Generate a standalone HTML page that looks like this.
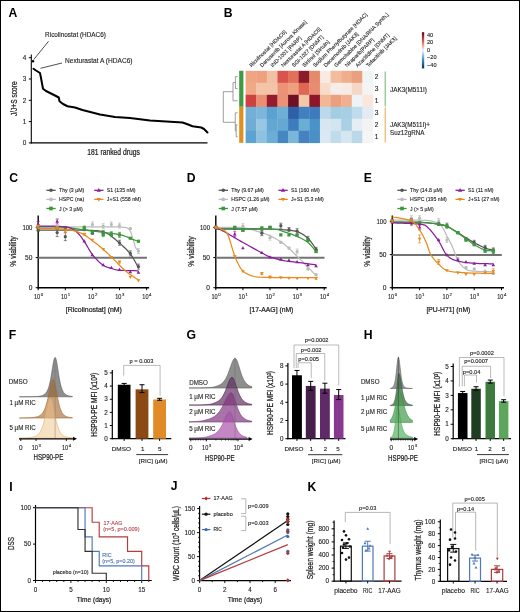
<!DOCTYPE html>
<html><head><meta charset="utf-8"><style>
html,body{margin:0;padding:0;background:#fff;width:520px;height:612px;overflow:hidden}
svg{display:block;will-change:transform;font-family:"Liberation Sans",sans-serif}
</style></head><body>
<svg width="520" height="612" viewBox="0 0 520 612" font-family="Liberation Sans, sans-serif"><rect x="0" y="0" width="520" height="1" fill="#000" stroke="none" stroke-width="0"/>
<rect x="0" y="0" width="1" height="612" fill="#000" stroke="none" stroke-width="0"/>
<rect x="519" y="0" width="1" height="612" fill="#000" stroke="none" stroke-width="0"/>
<rect x="0" y="611" width="520" height="1" fill="#000" stroke="none" stroke-width="0"/>
<text x="8.6" y="17" font-size="12.2" text-anchor="start" fill="#000" font-weight="bold">A</text>
<line x1="31.3" y1="54.5" x2="31.3" y2="143.5" stroke="#000" stroke-width="1.1"/>
<line x1="30.8" y1="142.9" x2="207.5" y2="142.9" stroke="#000" stroke-width="1.1"/>
<line x1="28.8" y1="142.9" x2="31.3" y2="142.9" stroke="#000" stroke-width="1"/>
<text x="26.3" y="145.1" font-size="6.4" text-anchor="end" fill="#222" font-weight="normal" stroke="#222" stroke-width="0.12">0</text>
<line x1="28.8" y1="121.6" x2="31.3" y2="121.6" stroke="#000" stroke-width="1"/>
<text x="26.3" y="123.8" font-size="6.4" text-anchor="end" fill="#222" font-weight="normal" stroke="#222" stroke-width="0.12">1</text>
<line x1="28.8" y1="100.3" x2="31.3" y2="100.3" stroke="#000" stroke-width="1"/>
<text x="26.3" y="102.5" font-size="6.4" text-anchor="end" fill="#222" font-weight="normal" stroke="#222" stroke-width="0.12">2</text>
<line x1="28.8" y1="79" x2="31.3" y2="79" stroke="#000" stroke-width="1"/>
<text x="26.3" y="81.2" font-size="6.4" text-anchor="end" fill="#222" font-weight="normal" stroke="#222" stroke-width="0.12">3</text>
<line x1="28.8" y1="57.7" x2="31.3" y2="57.7" stroke="#000" stroke-width="1"/>
<text x="26.3" y="59.9" font-size="6.4" text-anchor="end" fill="#222" font-weight="normal" stroke="#222" stroke-width="0.12">4</text>
<text x="16.8" y="98.7" font-size="8.2" text-anchor="middle" fill="#222" font-weight="normal" stroke="#222" stroke-width="0.24" transform="rotate(-90 16.8 98.7)" textLength="34.8" lengthAdjust="spacingAndGlyphs">J/J+S score</text>
<text x="113.6" y="154.5" font-size="8.6" text-anchor="middle" fill="#222" font-weight="normal" stroke="#222" stroke-width="0.24" textLength="52.5" lengthAdjust="spacingAndGlyphs">181 ranked drugs</text>
<path d="M33.5 68.75 L36 70.5 L40 73 L41 78 L43 88.75 L46 91 L50 93 L55 95.5 L58.75 97.5 L59.5 101.25 L63 104 L67.5 106.25 L75 107.5 L82.5 110 L100 114.5 L115 117 L130 118 L150 120.5 L182.5 122.5 L187.5 124.25 L192.5 126.25 L201.25 127.5 L204 129 L207.5 132.5" stroke="#000" stroke-width="2" fill="none" stroke-linejoin="round" stroke-linecap="round"/>
<circle cx="33" cy="61.3" r="1.3" fill="#000"/>
<text x="45.1" y="37.2" font-size="6.5" text-anchor="start" fill="#222" font-weight="normal" stroke="#222" stroke-width="0.12" textLength="60.8" lengthAdjust="spacingAndGlyphs">Ricolinostat (HDAC6)</text>
<line x1="33.8" y1="59.5" x2="48.5" y2="41.3" stroke="#000" stroke-width="0.7"/>
<text x="65" y="63" font-size="6.5" text-anchor="start" fill="#222" font-weight="normal" stroke="#222" stroke-width="0.12" textLength="67.5" lengthAdjust="spacingAndGlyphs">Nexturastat A (HDAC6)</text>
<line x1="40.5" y1="68.3" x2="62" y2="63" stroke="#000" stroke-width="0.7"/>
<text x="223.8" y="16.5" font-size="12.2" text-anchor="start" fill="#000" font-weight="bold">B</text>
<rect x="245.6" y="70.8" width="10.92" height="12.3" fill="#f0a582" stroke="none" stroke-width="0"/>
<rect x="245.6" y="82.8" width="10.92" height="12.3" fill="#f1a886" stroke="none" stroke-width="0"/>
<rect x="245.6" y="94.8" width="10.92" height="12.3" fill="#cf4040" stroke="none" stroke-width="0"/>
<rect x="245.6" y="106.8" width="10.92" height="12.3" fill="#74b0d6" stroke="none" stroke-width="0"/>
<rect x="245.6" y="118.8" width="10.92" height="12.3" fill="#6fadd6" stroke="none" stroke-width="0"/>
<rect x="245.6" y="130.8" width="10.92" height="12.3" fill="#5ca3d2" stroke="none" stroke-width="0"/>
<rect x="256.22" y="70.8" width="10.92" height="12.3" fill="#eea07f" stroke="none" stroke-width="0"/>
<rect x="256.22" y="82.8" width="10.92" height="12.3" fill="#f3c4a8" stroke="none" stroke-width="0"/>
<rect x="256.22" y="94.8" width="10.92" height="12.3" fill="#eb8f72" stroke="none" stroke-width="0"/>
<rect x="256.22" y="106.8" width="10.92" height="12.3" fill="#7cb6da" stroke="none" stroke-width="0"/>
<rect x="256.22" y="118.8" width="10.92" height="12.3" fill="#97c7e2" stroke="none" stroke-width="0"/>
<rect x="256.22" y="130.8" width="10.92" height="12.3" fill="#8fc2e0" stroke="none" stroke-width="0"/>
<rect x="266.84" y="70.8" width="10.92" height="12.3" fill="#f2c0a3" stroke="none" stroke-width="0"/>
<rect x="266.84" y="82.8" width="10.92" height="12.3" fill="#f3c4a8" stroke="none" stroke-width="0"/>
<rect x="266.84" y="94.8" width="10.92" height="12.3" fill="#951c2e" stroke="none" stroke-width="0"/>
<rect x="266.84" y="106.8" width="10.92" height="12.3" fill="#5aa2d0" stroke="none" stroke-width="0"/>
<rect x="266.84" y="118.8" width="10.92" height="12.3" fill="#62a8d3" stroke="none" stroke-width="0"/>
<rect x="266.84" y="130.8" width="10.92" height="12.3" fill="#6aaed6" stroke="none" stroke-width="0"/>
<rect x="277.46" y="70.8" width="10.92" height="12.3" fill="#d9544d" stroke="none" stroke-width="0"/>
<rect x="277.46" y="82.8" width="10.92" height="12.3" fill="#ec9377" stroke="none" stroke-width="0"/>
<rect x="277.46" y="94.8" width="10.92" height="12.3" fill="#ec9176" stroke="none" stroke-width="0"/>
<rect x="277.46" y="106.8" width="10.92" height="12.3" fill="#6fafd6" stroke="none" stroke-width="0"/>
<rect x="277.46" y="118.8" width="10.92" height="12.3" fill="#65a9d3" stroke="none" stroke-width="0"/>
<rect x="277.46" y="130.8" width="10.92" height="12.3" fill="#4487c3" stroke="none" stroke-width="0"/>
<rect x="288.08" y="70.8" width="10.92" height="12.3" fill="#e2705a" stroke="none" stroke-width="0"/>
<rect x="288.08" y="82.8" width="10.92" height="12.3" fill="#ee9f80" stroke="none" stroke-width="0"/>
<rect x="288.08" y="94.8" width="10.92" height="12.3" fill="#6e1024" stroke="none" stroke-width="0"/>
<rect x="288.08" y="106.8" width="10.92" height="12.3" fill="#2f5fa6" stroke="none" stroke-width="0"/>
<rect x="288.08" y="118.8" width="10.92" height="12.3" fill="#3e7dbd" stroke="none" stroke-width="0"/>
<rect x="288.08" y="130.8" width="10.92" height="12.3" fill="#79b6da" stroke="none" stroke-width="0"/>
<rect x="298.7" y="70.8" width="10.92" height="12.3" fill="#8b1a2a" stroke="none" stroke-width="0"/>
<rect x="298.7" y="82.8" width="10.92" height="12.3" fill="#df6652" stroke="none" stroke-width="0"/>
<rect x="298.7" y="94.8" width="10.92" height="12.3" fill="#f4c7a8" stroke="none" stroke-width="0"/>
<rect x="298.7" y="106.8" width="10.92" height="12.3" fill="#4080bf" stroke="none" stroke-width="0"/>
<rect x="298.7" y="118.8" width="10.92" height="12.3" fill="#6aaed5" stroke="none" stroke-width="0"/>
<rect x="298.7" y="130.8" width="10.92" height="12.3" fill="#4582c1" stroke="none" stroke-width="0"/>
<rect x="309.32" y="70.8" width="10.92" height="12.3" fill="#e68a6c" stroke="none" stroke-width="0"/>
<rect x="309.32" y="82.8" width="10.92" height="12.3" fill="#e88b70" stroke="none" stroke-width="0"/>
<rect x="309.32" y="94.8" width="10.92" height="12.3" fill="#8e1628" stroke="none" stroke-width="0"/>
<rect x="309.32" y="106.8" width="10.92" height="12.3" fill="#3e7bbd" stroke="none" stroke-width="0"/>
<rect x="309.32" y="118.8" width="10.92" height="12.3" fill="#4993c8" stroke="none" stroke-width="0"/>
<rect x="309.32" y="130.8" width="10.92" height="12.3" fill="#4a8fc6" stroke="none" stroke-width="0"/>
<rect x="319.94" y="70.8" width="10.92" height="12.3" fill="#f9ebe3" stroke="none" stroke-width="0"/>
<rect x="319.94" y="82.8" width="10.92" height="12.3" fill="#f8dccb" stroke="none" stroke-width="0"/>
<rect x="319.94" y="94.8" width="10.92" height="12.3" fill="#f0b894" stroke="none" stroke-width="0"/>
<rect x="319.94" y="106.8" width="10.92" height="12.3" fill="#bcd9ea" stroke="none" stroke-width="0"/>
<rect x="319.94" y="118.8" width="10.92" height="12.3" fill="#d7e7f1" stroke="none" stroke-width="0"/>
<rect x="319.94" y="130.8" width="10.92" height="12.3" fill="#d9e8f2" stroke="none" stroke-width="0"/>
<rect x="330.56" y="70.8" width="10.92" height="12.3" fill="#f1bd9c" stroke="none" stroke-width="0"/>
<rect x="330.56" y="82.8" width="10.92" height="12.3" fill="#f7ede8" stroke="none" stroke-width="0"/>
<rect x="330.56" y="94.8" width="10.92" height="12.3" fill="#eb9f7f" stroke="none" stroke-width="0"/>
<rect x="330.56" y="106.8" width="10.92" height="12.3" fill="#a2cde3" stroke="none" stroke-width="0"/>
<rect x="330.56" y="118.8" width="10.92" height="12.3" fill="#d3e5f0" stroke="none" stroke-width="0"/>
<rect x="330.56" y="130.8" width="10.92" height="12.3" fill="#c0dbea" stroke="none" stroke-width="0"/>
<rect x="341.18" y="70.8" width="10.92" height="12.3" fill="#f0ae8c" stroke="none" stroke-width="0"/>
<rect x="341.18" y="82.8" width="10.92" height="12.3" fill="#f8ebe5" stroke="none" stroke-width="0"/>
<rect x="341.18" y="94.8" width="10.92" height="12.3" fill="#f0b090" stroke="none" stroke-width="0"/>
<rect x="341.18" y="106.8" width="10.92" height="12.3" fill="#a6cfe4" stroke="none" stroke-width="0"/>
<rect x="341.18" y="118.8" width="10.92" height="12.3" fill="#a9d0e4" stroke="none" stroke-width="0"/>
<rect x="341.18" y="130.8" width="10.92" height="12.3" fill="#d6e6f0" stroke="none" stroke-width="0"/>
<rect x="351.8" y="70.8" width="10.92" height="12.3" fill="#eaa07e" stroke="none" stroke-width="0"/>
<rect x="351.8" y="82.8" width="10.92" height="12.3" fill="#f6d7c5" stroke="none" stroke-width="0"/>
<rect x="351.8" y="94.8" width="10.92" height="12.3" fill="#eef3f6" stroke="none" stroke-width="0"/>
<rect x="351.8" y="106.8" width="10.92" height="12.3" fill="#c0dcea" stroke="none" stroke-width="0"/>
<rect x="351.8" y="118.8" width="10.92" height="12.3" fill="#e7eef3" stroke="none" stroke-width="0"/>
<rect x="351.8" y="130.8" width="10.92" height="12.3" fill="#bad8e9" stroke="none" stroke-width="0"/>
<rect x="362.42" y="70.8" width="10.92" height="12.3" fill="#f1f4f4" stroke="none" stroke-width="0"/>
<rect x="362.42" y="82.8" width="10.92" height="12.3" fill="#f4f4f4" stroke="none" stroke-width="0"/>
<rect x="362.42" y="94.8" width="10.92" height="12.3" fill="#fbe6dc" stroke="none" stroke-width="0"/>
<rect x="362.42" y="106.8" width="10.92" height="12.3" fill="#e5ebf3" stroke="none" stroke-width="0"/>
<rect x="362.42" y="118.8" width="10.92" height="12.3" fill="#f2f3f4" stroke="none" stroke-width="0"/>
<rect x="362.42" y="130.8" width="10.92" height="12.3" fill="#f5f5f5" stroke="none" stroke-width="0"/>
<rect x="239.2" y="70.8" width="4.2" height="36" fill="#3f9a45" stroke="none" stroke-width="0"/>
<rect x="239.2" y="106.8" width="4.2" height="36" fill="#e0901c" stroke="none" stroke-width="0"/>
<line x1="235.4" y1="76.6" x2="237.6" y2="76.6" stroke="#777" stroke-width="0.7"/>
<line x1="235.4" y1="88.6" x2="237.6" y2="88.6" stroke="#777" stroke-width="0.7"/>
<line x1="235.4" y1="76.6" x2="235.4" y2="88.6" stroke="#777" stroke-width="0.7"/>
<line x1="233" y1="82.6" x2="235.4" y2="82.6" stroke="#777" stroke-width="0.7"/>
<line x1="233" y1="100.8" x2="237.6" y2="100.8" stroke="#777" stroke-width="0.7"/>
<line x1="233" y1="82.6" x2="233" y2="100.8" stroke="#777" stroke-width="0.7"/>
<line x1="223.3" y1="91.7" x2="233" y2="91.7" stroke="#777" stroke-width="0.7"/>
<line x1="223.3" y1="91.7" x2="223.3" y2="122.3" stroke="#777" stroke-width="0.7"/>
<line x1="223.3" y1="122.3" x2="235.3" y2="122.3" stroke="#777" stroke-width="0.7"/>
<line x1="235.3" y1="112.8" x2="237.6" y2="112.8" stroke="#777" stroke-width="0.7"/>
<line x1="235.3" y1="112.8" x2="235.3" y2="130.8" stroke="#777" stroke-width="0.7"/>
<line x1="235.3" y1="130.8" x2="236.2" y2="130.8" stroke="#777" stroke-width="0.7"/>
<line x1="236.2" y1="124.8" x2="237.6" y2="124.8" stroke="#777" stroke-width="0.7"/>
<line x1="236.2" y1="136.8" x2="237.6" y2="136.8" stroke="#777" stroke-width="0.7"/>
<line x1="236.2" y1="124.8" x2="236.2" y2="136.8" stroke="#777" stroke-width="0.7"/>
<text x="251.41" y="67.5" font-size="5.3" text-anchor="start" fill="#222" font-weight="normal" stroke="#222" stroke-width="0.12" transform="rotate(-45 251.41 67.5)">Ricolinostat [HDAC6]</text>
<text x="262.03" y="67.5" font-size="5.3" text-anchor="start" fill="#222" font-weight="normal" stroke="#222" stroke-width="0.12" transform="rotate(-45 262.03 67.5)">Danusertib [Aurora Kinase]</text>
<text x="272.65" y="67.5" font-size="5.3" text-anchor="start" fill="#222" font-weight="normal" stroke="#222" stroke-width="0.12" transform="rotate(-45 272.65 67.5)">IND-1001 [PARP]</text>
<text x="283.27" y="67.5" font-size="5.3" text-anchor="start" fill="#222" font-weight="normal" stroke="#222" stroke-width="0.12" transform="rotate(-45 283.27 67.5)">Nexturastat A [HDAC6]</text>
<text x="293.89" y="67.5" font-size="5.3" text-anchor="start" fill="#222" font-weight="normal" stroke="#222" stroke-width="0.12" transform="rotate(-45 293.89 67.5)">SGI-1027 [DNMT]</text>
<text x="304.51" y="67.5" font-size="5.3" text-anchor="start" fill="#222" font-weight="normal" stroke="#222" stroke-width="0.12" transform="rotate(-45 304.51 67.5)">Sirtinol [Sirtuin]</text>
<text x="315.13" y="67.5" font-size="5.3" text-anchor="start" fill="#222" font-weight="normal" stroke="#222" stroke-width="0.12" transform="rotate(-45 315.13 67.5)">Sodium Phenylbutyrate [HDAC]</text>
<text x="325.75" y="67.5" font-size="5.3" text-anchor="start" fill="#222" font-weight="normal" stroke="#222" stroke-width="0.12" transform="rotate(-45 325.75 67.5)">Decernotinib [JAK3]</text>
<text x="336.37" y="67.5" font-size="5.3" text-anchor="start" fill="#222" font-weight="normal" stroke="#222" stroke-width="0.12" transform="rotate(-45 336.37 67.5)">Gemcitabine [DNA/RNA Synth.]</text>
<text x="346.99" y="67.5" font-size="5.3" text-anchor="start" fill="#222" font-weight="normal" stroke="#222" stroke-width="0.12" transform="rotate(-45 346.99 67.5)">Niraparib[PARP]</text>
<text x="357.61" y="67.5" font-size="5.3" text-anchor="start" fill="#222" font-weight="normal" stroke="#222" stroke-width="0.12" transform="rotate(-45 357.61 67.5)">Azacitidine [DNMT]</text>
<text x="368.23" y="67.5" font-size="5.3" text-anchor="start" fill="#222" font-weight="normal" stroke="#222" stroke-width="0.12" transform="rotate(-45 368.23 67.5)">Tofacitinib [JAK3]</text>
<text x="374.8" y="79.1" font-size="6.6" text-anchor="start" fill="#222" font-weight="normal" stroke="#222" stroke-width="0.12">2</text>
<text x="374.8" y="91.1" font-size="6.6" text-anchor="start" fill="#222" font-weight="normal" stroke="#222" stroke-width="0.12">3</text>
<text x="374.8" y="103.1" font-size="6.6" text-anchor="start" fill="#222" font-weight="normal" stroke="#222" stroke-width="0.12">1</text>
<text x="374.8" y="115.1" font-size="6.6" text-anchor="start" fill="#222" font-weight="normal" stroke="#222" stroke-width="0.12">3</text>
<text x="374.8" y="127.1" font-size="6.6" text-anchor="start" fill="#222" font-weight="normal" stroke="#222" stroke-width="0.12">2</text>
<text x="374.8" y="139.1" font-size="6.6" text-anchor="start" fill="#222" font-weight="normal" stroke="#222" stroke-width="0.12">1</text>
<line x1="385.2" y1="71.5" x2="385.2" y2="106.3" stroke="#4a9e4a" stroke-width="0.8"/>
<line x1="385.2" y1="107.3" x2="385.2" y2="142.5" stroke="#e0901c" stroke-width="0.8"/>
<text x="390" y="92.25" font-size="6.3" text-anchor="start" fill="#222" font-weight="normal" stroke="#222" stroke-width="0.12" textLength="36.9" lengthAdjust="spacingAndGlyphs">JAK3(M511I)</text>
<text x="390" y="126.9" font-size="6.3" text-anchor="start" fill="#222" font-weight="normal" stroke="#222" stroke-width="0.12">JAK3(M511I)+</text>
<text x="390" y="134.6" font-size="6.3" text-anchor="start" fill="#222" font-weight="normal" stroke="#222" stroke-width="0.12" textLength="34.4" lengthAdjust="spacingAndGlyphs">Suz12gRNA</text>
<defs><linearGradient id="cb" x1="0" y1="0" x2="0" y2="1"><stop offset="0" stop-color="#67001f"/><stop offset="0.25" stop-color="#d6604d"/><stop offset="0.5" stop-color="#f7f7f7"/><stop offset="0.75" stop-color="#4393c3"/><stop offset="1" stop-color="#053061"/></linearGradient></defs>
<rect x="421.9" y="32.2" width="2.3" height="36.2" fill="url(#cb)" stroke="none" stroke-width="0"/>
<text x="427" y="36.8" font-size="5.6" text-anchor="start" fill="#222" font-weight="normal" stroke="#222" stroke-width="0.12">40</text>
<text x="427" y="44.3" font-size="5.6" text-anchor="start" fill="#222" font-weight="normal" stroke="#222" stroke-width="0.12">20</text>
<text x="427" y="51.8" font-size="5.6" text-anchor="start" fill="#222" font-weight="normal" stroke="#222" stroke-width="0.12">0</text>
<text x="427" y="59.3" font-size="5.6" text-anchor="start" fill="#222" font-weight="normal" stroke="#222" stroke-width="0.12">−20</text>
<text x="427" y="66.8" font-size="5.6" text-anchor="start" fill="#222" font-weight="normal" stroke="#222" stroke-width="0.12">−40</text>
<text x="9.2" y="181.8" font-size="12.2" text-anchor="start" fill="#000" font-weight="bold">C</text>
<line x1="38.2" y1="215.6" x2="38.2" y2="288.4" stroke="#000" stroke-width="1.4"/>
<line x1="37.5" y1="287.7" x2="149.1" y2="287.7" stroke="#000" stroke-width="1.4"/>
<line x1="35.7" y1="287.7" x2="38.2" y2="287.7" stroke="#000" stroke-width="1"/>
<text x="32.4" y="290" font-size="6.6" text-anchor="end" fill="#222" font-weight="normal" stroke="#222" stroke-width="0.12">0</text>
<line x1="35.7" y1="257.55" x2="38.2" y2="257.55" stroke="#000" stroke-width="1"/>
<text x="32.4" y="259.85" font-size="6.6" text-anchor="end" fill="#222" font-weight="normal" stroke="#222" stroke-width="0.12">50</text>
<line x1="35.7" y1="227.4" x2="38.2" y2="227.4" stroke="#000" stroke-width="1"/>
<text x="32.4" y="229.7" font-size="6.6" text-anchor="end" fill="#222" font-weight="normal" stroke="#222" stroke-width="0.12" textLength="10" lengthAdjust="spacingAndGlyphs">100</text>
<line x1="38.2" y1="287.7" x2="38.2" y2="290.2" stroke="#000" stroke-width="1"/>
<text x="37" y="299.3" font-size="6.4" text-anchor="middle" fill="#222" font-weight="normal" stroke="#222" stroke-width="0.12" textLength="6.2" lengthAdjust="spacingAndGlyphs">10</text>
<text x="40.7" y="295.9" font-size="4.3" text-anchor="start" fill="#222" font-weight="normal" stroke="#222" stroke-width="0.12">0</text>
<line x1="65.3" y1="287.7" x2="65.3" y2="290.2" stroke="#000" stroke-width="1"/>
<text x="64.1" y="299.3" font-size="6.4" text-anchor="middle" fill="#222" font-weight="normal" stroke="#222" stroke-width="0.12" textLength="6.2" lengthAdjust="spacingAndGlyphs">10</text>
<text x="67.8" y="295.9" font-size="4.3" text-anchor="start" fill="#222" font-weight="normal" stroke="#222" stroke-width="0.12">1</text>
<line x1="92.4" y1="287.7" x2="92.4" y2="290.2" stroke="#000" stroke-width="1"/>
<text x="91.2" y="299.3" font-size="6.4" text-anchor="middle" fill="#222" font-weight="normal" stroke="#222" stroke-width="0.12" textLength="6.2" lengthAdjust="spacingAndGlyphs">10</text>
<text x="94.9" y="295.9" font-size="4.3" text-anchor="start" fill="#222" font-weight="normal" stroke="#222" stroke-width="0.12">2</text>
<line x1="119.5" y1="287.7" x2="119.5" y2="290.2" stroke="#000" stroke-width="1"/>
<text x="118.3" y="299.3" font-size="6.4" text-anchor="middle" fill="#222" font-weight="normal" stroke="#222" stroke-width="0.12" textLength="6.2" lengthAdjust="spacingAndGlyphs">10</text>
<text x="122" y="295.9" font-size="4.3" text-anchor="start" fill="#222" font-weight="normal" stroke="#222" stroke-width="0.12">3</text>
<line x1="146.6" y1="287.7" x2="146.6" y2="290.2" stroke="#000" stroke-width="1"/>
<text x="145.4" y="299.3" font-size="6.4" text-anchor="middle" fill="#222" font-weight="normal" stroke="#222" stroke-width="0.12" textLength="6.2" lengthAdjust="spacingAndGlyphs">10</text>
<text x="149.1" y="295.9" font-size="4.3" text-anchor="start" fill="#222" font-weight="normal" stroke="#222" stroke-width="0.12">4</text>
<line x1="38.2" y1="257.85" x2="146.9" y2="257.85" stroke="#737373" stroke-width="2"/>
<text x="16" y="251.5" font-size="8.4" text-anchor="middle" fill="#222" font-weight="normal" stroke="#222" stroke-width="0.24" transform="rotate(-90 16 251.5)" textLength="30.4" lengthAdjust="spacingAndGlyphs">% viability</text>
<text x="93.9" y="311.8" font-size="7.7" text-anchor="middle" fill="#222" font-weight="normal" stroke="#222" stroke-width="0.24" textLength="56.1" lengthAdjust="spacingAndGlyphs">[Ricolinostat] (nM)</text>
<path d="M38.2 226.8 L42.57 226.79 L48.57 226.79 L55.75 226.78 L63.61 226.78 L71.68 226.77 L79.49 226.78 L86.55 226.78 L92.4 226.8 L97.2 226.81 L101.49 226.81 L105.32 226.81 L108.74 226.82 L111.82 226.84 L114.6 226.89 L117.14 226.97 L119.5 227.1 L121.57 227.22 L123.24 227.31 L124.59 227.4 L125.68 227.53 L126.6 227.74 L127.41 228.07 L128.18 228.54 L128.99 229.21 L129.76 230.11 L130.41 231.24 L130.97 232.54 L131.44 233.94 L131.86 235.39 L132.26 236.83 L132.64 238.21 L133.05 239.46 L133.45 240.64 L133.82 241.84 L134.17 243.02 L134.49 244.17 L134.8 245.26 L135.11 246.26 L135.43 247.15 L135.76 247.9 L136.12 248.51 L136.5 248.99 L136.9 249.35 L137.28 249.64 L137.65 249.85 L137.98 250.02 L138.26 250.17 L138.47 250.31" stroke="#bcbcbc" stroke-width="1.25" fill="none"/>
<circle cx="38.2" cy="227.4" r="1.61" fill="#bcbcbc"/>
<circle cx="57.17" cy="227.4" r="1.61" fill="#bcbcbc"/>
<circle cx="65.3" cy="227.4" r="1.61" fill="#bcbcbc"/>
<circle cx="84.27" cy="227.4" r="1.61" fill="#bcbcbc"/>
<line x1="92.4" y1="221.88" x2="92.4" y2="226.88" stroke="#bcbcbc" stroke-width="0.7"/>
<line x1="90.9" y1="221.88" x2="93.9" y2="221.88" stroke="#bcbcbc" stroke-width="0.7"/>
<line x1="90.9" y1="226.88" x2="93.9" y2="226.88" stroke="#bcbcbc" stroke-width="0.7"/>
<circle cx="92.4" cy="224.38" r="1.61" fill="#bcbcbc"/>
<line x1="103.24" y1="223.69" x2="103.24" y2="228.69" stroke="#bcbcbc" stroke-width="0.7"/>
<line x1="101.74" y1="223.69" x2="104.74" y2="223.69" stroke="#bcbcbc" stroke-width="0.7"/>
<line x1="101.74" y1="228.69" x2="104.74" y2="228.69" stroke="#bcbcbc" stroke-width="0.7"/>
<circle cx="103.24" cy="226.19" r="1.61" fill="#bcbcbc"/>
<line x1="111.37" y1="221.88" x2="111.37" y2="226.88" stroke="#bcbcbc" stroke-width="0.7"/>
<line x1="109.87" y1="221.88" x2="112.87" y2="221.88" stroke="#bcbcbc" stroke-width="0.7"/>
<line x1="109.87" y1="226.88" x2="112.87" y2="226.88" stroke="#bcbcbc" stroke-width="0.7"/>
<circle cx="111.37" cy="224.38" r="1.61" fill="#bcbcbc"/>
<line x1="119.5" y1="223.09" x2="119.5" y2="228.09" stroke="#bcbcbc" stroke-width="0.7"/>
<line x1="118" y1="223.09" x2="121" y2="223.09" stroke="#bcbcbc" stroke-width="0.7"/>
<line x1="118" y1="228.09" x2="121" y2="228.09" stroke="#bcbcbc" stroke-width="0.7"/>
<circle cx="119.5" cy="225.59" r="1.61" fill="#bcbcbc"/>
<line x1="130.34" y1="227.61" x2="130.34" y2="229.61" stroke="#bcbcbc" stroke-width="0.7"/>
<line x1="128.84" y1="227.61" x2="131.84" y2="227.61" stroke="#bcbcbc" stroke-width="0.7"/>
<line x1="128.84" y1="229.61" x2="131.84" y2="229.61" stroke="#bcbcbc" stroke-width="0.7"/>
<circle cx="130.34" cy="228.61" r="1.61" fill="#bcbcbc"/>
<line x1="138.47" y1="248.6" x2="138.47" y2="253.6" stroke="#bcbcbc" stroke-width="0.7"/>
<line x1="136.97" y1="248.6" x2="139.97" y2="248.6" stroke="#bcbcbc" stroke-width="0.7"/>
<line x1="136.97" y1="253.6" x2="139.97" y2="253.6" stroke="#bcbcbc" stroke-width="0.7"/>
<circle cx="138.47" cy="251.1" r="1.61" fill="#bcbcbc"/>
<path d="M38.2 230.11 L40.29 230.11 L43.07 230.11 L46.38 230.1 L50.06 230.09 L53.95 230.09 L57.89 230.09 L61.73 230.1 L65.3 230.11 L68.78 230.12 L72.39 230.12 L76.06 230.11 L79.7 230.11 L83.23 230.13 L86.58 230.18 L89.66 230.27 L92.4 230.41 L94.74 230.56 L96.74 230.69 L98.47 230.82 L100.02 231 L101.46 231.26 L102.88 231.62 L104.35 232.14 L105.95 232.83 L107.66 233.73 L109.4 234.82 L111.15 236.07 L112.89 237.42 L114.62 238.85 L116.3 240.29 L117.94 241.71 L119.5 243.08 L121 244.39 L122.46 245.68 L123.88 246.97 L125.26 248.28 L126.59 249.61 L127.88 250.99 L129.13 252.43 L130.34 253.93 L131.54 255.62 L132.75 257.51 L133.94 259.52 L135.08 261.54 L136.14 263.48 L137.07 265.24 L137.86 266.71 L138.47 267.8" stroke="#555555" stroke-width="1.25" fill="none"/>
<line x1="38.2" y1="229.29" x2="38.2" y2="231.29" stroke="#555555" stroke-width="0.7"/>
<line x1="36.7" y1="229.29" x2="39.7" y2="229.29" stroke="#555555" stroke-width="0.7"/>
<line x1="36.7" y1="231.29" x2="39.7" y2="231.29" stroke="#555555" stroke-width="0.7"/>
<circle cx="38.2" cy="230.29" r="1.61" fill="#555555"/>
<line x1="57.17" y1="228.59" x2="57.17" y2="236.59" stroke="#555555" stroke-width="0.7"/>
<line x1="55.67" y1="228.59" x2="58.67" y2="228.59" stroke="#555555" stroke-width="0.7"/>
<line x1="55.67" y1="236.59" x2="58.67" y2="236.59" stroke="#555555" stroke-width="0.7"/>
<circle cx="57.17" cy="232.59" r="1.61" fill="#555555"/>
<line x1="65.3" y1="232.63" x2="65.3" y2="240.63" stroke="#555555" stroke-width="0.7"/>
<line x1="63.8" y1="232.63" x2="66.8" y2="232.63" stroke="#555555" stroke-width="0.7"/>
<line x1="63.8" y1="240.63" x2="66.8" y2="240.63" stroke="#555555" stroke-width="0.7"/>
<circle cx="65.3" cy="236.63" r="1.61" fill="#555555"/>
<line x1="84.27" y1="228.57" x2="84.27" y2="230.57" stroke="#555555" stroke-width="0.7"/>
<line x1="82.77" y1="228.57" x2="85.77" y2="228.57" stroke="#555555" stroke-width="0.7"/>
<line x1="82.77" y1="230.57" x2="85.77" y2="230.57" stroke="#555555" stroke-width="0.7"/>
<circle cx="84.27" cy="229.57" r="1.61" fill="#555555"/>
<line x1="92.4" y1="232.13" x2="92.4" y2="234.13" stroke="#555555" stroke-width="0.7"/>
<line x1="90.9" y1="232.13" x2="93.9" y2="232.13" stroke="#555555" stroke-width="0.7"/>
<line x1="90.9" y1="234.13" x2="93.9" y2="234.13" stroke="#555555" stroke-width="0.7"/>
<circle cx="92.4" cy="233.13" r="1.61" fill="#555555"/>
<line x1="103.24" y1="230.63" x2="103.24" y2="235.63" stroke="#555555" stroke-width="0.7"/>
<line x1="101.74" y1="230.63" x2="104.74" y2="230.63" stroke="#555555" stroke-width="0.7"/>
<line x1="101.74" y1="235.63" x2="104.74" y2="235.63" stroke="#555555" stroke-width="0.7"/>
<circle cx="103.24" cy="233.13" r="1.61" fill="#555555"/>
<line x1="111.37" y1="233.21" x2="111.37" y2="235.21" stroke="#555555" stroke-width="0.7"/>
<line x1="109.87" y1="233.21" x2="112.87" y2="233.21" stroke="#555555" stroke-width="0.7"/>
<line x1="109.87" y1="235.21" x2="112.87" y2="235.21" stroke="#555555" stroke-width="0.7"/>
<circle cx="111.37" cy="234.21" r="1.61" fill="#555555"/>
<line x1="119.5" y1="240.28" x2="119.5" y2="245.28" stroke="#555555" stroke-width="0.7"/>
<line x1="118" y1="240.28" x2="121" y2="240.28" stroke="#555555" stroke-width="0.7"/>
<line x1="118" y1="245.28" x2="121" y2="245.28" stroke="#555555" stroke-width="0.7"/>
<circle cx="119.5" cy="242.78" r="1.61" fill="#555555"/>
<line x1="130.34" y1="250.89" x2="130.34" y2="255.89" stroke="#555555" stroke-width="0.7"/>
<line x1="128.84" y1="250.89" x2="131.84" y2="250.89" stroke="#555555" stroke-width="0.7"/>
<line x1="128.84" y1="255.89" x2="131.84" y2="255.89" stroke="#555555" stroke-width="0.7"/>
<circle cx="130.34" cy="253.39" r="1.61" fill="#555555"/>
<line x1="138.47" y1="264.09" x2="138.47" y2="269.09" stroke="#555555" stroke-width="0.7"/>
<line x1="136.97" y1="264.09" x2="139.97" y2="264.09" stroke="#555555" stroke-width="0.7"/>
<line x1="136.97" y1="269.09" x2="139.97" y2="269.09" stroke="#555555" stroke-width="0.7"/>
<circle cx="138.47" cy="266.59" r="1.61" fill="#555555"/>
<path d="M38.2 226.8 L40.29 226.82 L43.07 226.83 L46.38 226.85 L50.06 226.87 L53.95 226.93 L57.89 227.02 L61.73 227.18 L65.3 227.4 L68.69 227.71 L72.08 228.09 L75.46 228.54 L78.85 229.02 L82.24 229.53 L85.62 230.04 L89.01 230.55 L92.4 231.02 L95.88 231.46 L99.49 231.89 L103.16 232.32 L106.8 232.75 L110.33 233.19 L113.68 233.65 L116.76 234.13 L119.5 234.64 L121.9 235.2 L124.03 235.82 L125.93 236.48 L127.63 237.15 L129.16 237.8 L130.55 238.42 L131.84 238.98 L133.05 239.46 L134.15 239.86 L135.1 240.22 L135.92 240.52 L136.61 240.79 L137.19 241.01 L137.69 241.21 L138.11 241.37 L138.47 241.51" stroke="#3a993a" stroke-width="1.25" fill="none"/>
<line x1="38.2" y1="226.4" x2="38.2" y2="228.4" stroke="#3a993a" stroke-width="0.7"/>
<line x1="36.7" y1="226.4" x2="39.7" y2="226.4" stroke="#3a993a" stroke-width="0.7"/>
<line x1="36.7" y1="228.4" x2="39.7" y2="228.4" stroke="#3a993a" stroke-width="0.7"/>
<rect x="36.59" y="225.79" width="3.22" height="3.22" fill="#3a993a" stroke="none" stroke-width="0"/>
<line x1="57.17" y1="227" x2="57.17" y2="229" stroke="#3a993a" stroke-width="0.7"/>
<line x1="55.67" y1="227" x2="58.67" y2="227" stroke="#3a993a" stroke-width="0.7"/>
<line x1="55.67" y1="229" x2="58.67" y2="229" stroke="#3a993a" stroke-width="0.7"/>
<rect x="55.56" y="226.39" width="3.22" height="3.22" fill="#3a993a" stroke="none" stroke-width="0"/>
<line x1="65.3" y1="227" x2="65.3" y2="229" stroke="#3a993a" stroke-width="0.7"/>
<line x1="63.8" y1="227" x2="66.8" y2="227" stroke="#3a993a" stroke-width="0.7"/>
<line x1="63.8" y1="229" x2="66.8" y2="229" stroke="#3a993a" stroke-width="0.7"/>
<rect x="63.69" y="226.39" width="3.22" height="3.22" fill="#3a993a" stroke="none" stroke-width="0"/>
<line x1="84.27" y1="226" x2="84.27" y2="230" stroke="#3a993a" stroke-width="0.7"/>
<line x1="82.77" y1="226" x2="85.77" y2="226" stroke="#3a993a" stroke-width="0.7"/>
<line x1="82.77" y1="230" x2="85.77" y2="230" stroke="#3a993a" stroke-width="0.7"/>
<rect x="82.66" y="226.39" width="3.22" height="3.22" fill="#3a993a" stroke="none" stroke-width="0"/>
<line x1="92.4" y1="230.92" x2="92.4" y2="232.92" stroke="#3a993a" stroke-width="0.7"/>
<line x1="90.9" y1="230.92" x2="93.9" y2="230.92" stroke="#3a993a" stroke-width="0.7"/>
<line x1="90.9" y1="232.92" x2="93.9" y2="232.92" stroke="#3a993a" stroke-width="0.7"/>
<rect x="90.79" y="230.31" width="3.22" height="3.22" fill="#3a993a" stroke="none" stroke-width="0"/>
<line x1="103.24" y1="231.71" x2="103.24" y2="236.71" stroke="#3a993a" stroke-width="0.7"/>
<line x1="101.74" y1="231.71" x2="104.74" y2="231.71" stroke="#3a993a" stroke-width="0.7"/>
<line x1="101.74" y1="236.71" x2="104.74" y2="236.71" stroke="#3a993a" stroke-width="0.7"/>
<rect x="101.63" y="232.6" width="3.22" height="3.22" fill="#3a993a" stroke="none" stroke-width="0"/>
<line x1="111.37" y1="231.71" x2="111.37" y2="236.71" stroke="#3a993a" stroke-width="0.7"/>
<line x1="109.87" y1="231.71" x2="112.87" y2="231.71" stroke="#3a993a" stroke-width="0.7"/>
<line x1="109.87" y1="236.71" x2="112.87" y2="236.71" stroke="#3a993a" stroke-width="0.7"/>
<rect x="109.76" y="232.6" width="3.22" height="3.22" fill="#3a993a" stroke="none" stroke-width="0"/>
<line x1="119.5" y1="232.38" x2="119.5" y2="237.38" stroke="#3a993a" stroke-width="0.7"/>
<line x1="118" y1="232.38" x2="121" y2="232.38" stroke="#3a993a" stroke-width="0.7"/>
<line x1="118" y1="237.38" x2="121" y2="237.38" stroke="#3a993a" stroke-width="0.7"/>
<rect x="117.89" y="233.27" width="3.22" height="3.22" fill="#3a993a" stroke="none" stroke-width="0"/>
<rect x="128.73" y="236.64" width="3.22" height="3.22" fill="#3a993a" stroke="none" stroke-width="0"/>
<rect x="136.86" y="239.66" width="3.22" height="3.22" fill="#3a993a" stroke="none" stroke-width="0"/>
<path d="M38.2 226.19 L40.4 226.21 L43.45 226.2 L47.09 226.19 L51.07 226.19 L55.14 226.24 L59.03 226.34 L62.51 226.52 L65.3 226.8 L67.46 227.17 L69.23 227.61 L70.7 228.11 L71.94 228.68 L73.03 229.32 L74.04 230.02 L75.05 230.79 L76.14 231.62 L77.24 232.52 L78.24 233.47 L79.18 234.49 L80.07 235.58 L80.95 236.74 L81.83 237.97 L82.75 239.28 L83.73 240.67 L84.75 242.19 L85.79 243.88 L86.84 245.67 L87.91 247.53 L89 249.39 L90.11 251.21 L91.24 252.94 L92.4 254.53 L93.6 256.03 L94.84 257.51 L96.11 258.94 L97.4 260.3 L98.69 261.59 L99.96 262.77 L101.22 263.85 L102.43 264.79 L103.6 265.57 L104.76 266.2 L105.9 266.71 L107.02 267.12 L108.12 267.47 L109.22 267.78 L110.3 268.08 L111.37 268.4 L112.35 268.72 L113.21 269.01 L114 269.27 L114.81 269.5 L115.69 269.7 L116.72 269.89 L117.97 270.06 L119.5 270.21 L121.48 270.35 L123.92 270.46 L126.65 270.55 L129.49 270.63 L132.27 270.69 L134.81 270.74 L136.93 270.78 L138.47 270.82" stroke="#8b1e9b" stroke-width="1.25" fill="none"/>
<line x1="38.2" y1="221.4" x2="38.2" y2="226.4" stroke="#8b1e9b" stroke-width="0.7"/>
<line x1="36.7" y1="221.4" x2="39.7" y2="221.4" stroke="#8b1e9b" stroke-width="0.7"/>
<line x1="36.7" y1="226.4" x2="39.7" y2="226.4" stroke="#8b1e9b" stroke-width="0.7"/>
<path d="M38.2 221.95 L40.04 225.17 L36.36 225.17 Z" fill="#8b1e9b"/>
<line x1="57.17" y1="218.99" x2="57.17" y2="223.99" stroke="#8b1e9b" stroke-width="0.7"/>
<line x1="55.67" y1="218.99" x2="58.67" y2="218.99" stroke="#8b1e9b" stroke-width="0.7"/>
<line x1="55.67" y1="223.99" x2="58.67" y2="223.99" stroke="#8b1e9b" stroke-width="0.7"/>
<path d="M57.17 219.54 L59.01 222.76 L55.33 222.76 Z" fill="#8b1e9b"/>
<line x1="65.3" y1="228.57" x2="65.3" y2="230.57" stroke="#8b1e9b" stroke-width="0.7"/>
<line x1="63.8" y1="228.57" x2="66.8" y2="228.57" stroke="#8b1e9b" stroke-width="0.7"/>
<line x1="63.8" y1="230.57" x2="66.8" y2="230.57" stroke="#8b1e9b" stroke-width="0.7"/>
<path d="M65.3 227.62 L67.14 230.84 L63.46 230.84 Z" fill="#8b1e9b"/>
<path d="M84.27 239.31 L86.11 242.53 L82.43 242.53 Z" fill="#8b1e9b"/>
<path d="M92.4 253.06 L94.24 256.28 L90.56 256.28 Z" fill="#8b1e9b"/>
<path d="M103.24 263.07 L105.08 266.29 L101.4 266.29 Z" fill="#8b1e9b"/>
<path d="M111.37 265.73 L113.21 268.95 L109.53 268.95 Z" fill="#8b1e9b"/>
<path d="M119.5 267.66 L121.34 270.88 L117.66 270.88 Z" fill="#8b1e9b"/>
<path d="M130.34 269.95 L132.18 273.17 L128.5 273.17 Z" fill="#8b1e9b"/>
<path d="M138.47 270.43 L140.31 273.65 L136.63 273.65 Z" fill="#8b1e9b"/>
<path d="M38.2 228.61 L40.36 228.63 L43.32 228.63 L46.85 228.63 L50.73 228.64 L54.74 228.69 L58.65 228.79 L62.25 228.96 L65.3 229.21 L67.89 229.54 L70.25 229.94 L72.43 230.39 L74.45 230.9 L76.34 231.47 L78.13 232.08 L79.86 232.73 L81.56 233.43 L83.18 234.18 L84.66 235 L86.03 235.87 L87.34 236.78 L88.59 237.73 L89.84 238.7 L91.1 239.68 L92.4 240.67 L93.75 241.67 L95.11 242.71 L96.48 243.77 L97.84 244.85 L99.18 245.93 L100.49 247.01 L101.75 248.07 L102.97 249.11 L104.08 250.08 L105.09 250.97 L106.03 251.83 L106.95 252.69 L107.9 253.59 L108.92 254.58 L110.06 255.68 L111.37 256.95 L112.87 258.42 L114.52 260.1 L116.29 261.91 L118.13 263.8 L120.01 265.69 L121.88 267.54 L123.71 269.27 L125.46 270.82 L127.23 272.25 L129.1 273.65 L130.99 275 L132.85 276.27 L134.59 277.42 L136.16 278.44 L137.47 279.31 L138.47 279.98" stroke="#e88a1c" stroke-width="1.25" fill="none"/>
<line x1="38.2" y1="225.19" x2="38.2" y2="227.19" stroke="#e88a1c" stroke-width="0.7"/>
<line x1="36.7" y1="225.19" x2="39.7" y2="225.19" stroke="#e88a1c" stroke-width="0.7"/>
<line x1="36.7" y1="227.19" x2="39.7" y2="227.19" stroke="#e88a1c" stroke-width="0.7"/>
<path d="M38.2 228.15 L40.04 224.93 L36.36 224.93 Z" fill="#e88a1c"/>
<line x1="57.17" y1="226.4" x2="57.17" y2="228.4" stroke="#e88a1c" stroke-width="0.7"/>
<line x1="55.67" y1="226.4" x2="58.67" y2="226.4" stroke="#e88a1c" stroke-width="0.7"/>
<line x1="55.67" y1="228.4" x2="58.67" y2="228.4" stroke="#e88a1c" stroke-width="0.7"/>
<path d="M57.17 229.35 L59.01 226.13 L55.33 226.13 Z" fill="#e88a1c"/>
<line x1="65.3" y1="230.2" x2="65.3" y2="232.2" stroke="#e88a1c" stroke-width="0.7"/>
<line x1="63.8" y1="230.2" x2="66.8" y2="230.2" stroke="#e88a1c" stroke-width="0.7"/>
<line x1="63.8" y1="232.2" x2="66.8" y2="232.2" stroke="#e88a1c" stroke-width="0.7"/>
<path d="M65.3 233.15 L67.14 229.93 L63.46 229.93 Z" fill="#e88a1c"/>
<line x1="84.27" y1="233.21" x2="84.27" y2="235.21" stroke="#e88a1c" stroke-width="0.7"/>
<line x1="82.77" y1="233.21" x2="85.77" y2="233.21" stroke="#e88a1c" stroke-width="0.7"/>
<line x1="82.77" y1="235.21" x2="85.77" y2="235.21" stroke="#e88a1c" stroke-width="0.7"/>
<path d="M84.27 236.17 L86.11 232.95 L82.43 232.95 Z" fill="#e88a1c"/>
<path d="M92.4 242.02 L94.24 238.8 L90.56 238.8 Z" fill="#e88a1c"/>
<path d="M103.24 251.24 L105.08 248.02 L101.4 248.02 Z" fill="#e88a1c"/>
<path d="M111.37 259.26 L113.21 256.04 L109.53 256.04 Z" fill="#e88a1c"/>
<line x1="119.5" y1="261.01" x2="119.5" y2="263.01" stroke="#e88a1c" stroke-width="0.7"/>
<line x1="118" y1="261.01" x2="121" y2="261.01" stroke="#e88a1c" stroke-width="0.7"/>
<line x1="118" y1="263.01" x2="121" y2="263.01" stroke="#e88a1c" stroke-width="0.7"/>
<path d="M119.5 263.97 L121.34 260.75 L117.66 260.75 Z" fill="#e88a1c"/>
<path d="M130.34 278.98 L132.18 275.76 L128.5 275.76 Z" fill="#e88a1c"/>
<path d="M138.47 282.42 L140.31 279.2 L136.63 279.2 Z" fill="#e88a1c"/>
<line x1="46.4" y1="190.3" x2="55.7" y2="190.3" stroke="#555555" stroke-width="1.3"/>
<circle cx="51" cy="190.3" r="1.82" fill="#555555"/>
<text x="59" y="192.3" font-size="5.6" text-anchor="start" fill="#222" font-weight="normal" stroke="#222" stroke-width="0.12" textLength="25.28" lengthAdjust="spacingAndGlyphs">Thy (3 µM)</text>
<line x1="46.4" y1="199.4" x2="55.7" y2="199.4" stroke="#bcbcbc" stroke-width="1.3"/>
<circle cx="51" cy="199.4" r="1.82" fill="#bcbcbc"/>
<text x="59" y="201.4" font-size="5.6" text-anchor="start" fill="#222" font-weight="normal" stroke="#222" stroke-width="0.12" textLength="25.18" lengthAdjust="spacingAndGlyphs">HSPC (na)</text>
<line x1="46.4" y1="208.5" x2="55.7" y2="208.5" stroke="#3a993a" stroke-width="1.3"/>
<rect x="49.18" y="206.68" width="3.64" height="3.64" fill="#3a993a" stroke="none" stroke-width="0"/>
<text x="59" y="210.5" font-size="5.6" text-anchor="start" fill="#222" font-weight="normal" stroke="#222" stroke-width="0.12" textLength="23.69" lengthAdjust="spacingAndGlyphs">J (&gt; 3 µM)</text>
<line x1="94.2" y1="190.3" x2="103.5" y2="190.3" stroke="#8b1e9b" stroke-width="1.3"/>
<path d="M98.8 188.09 L100.88 191.73 L96.72 191.73 Z" fill="#8b1e9b"/>
<text x="106.8" y="192.3" font-size="5.6" text-anchor="start" fill="#222" font-weight="normal" stroke="#222" stroke-width="0.12" textLength="28.66" lengthAdjust="spacingAndGlyphs">S1 (135 nM)</text>
<line x1="94.2" y1="199.4" x2="103.5" y2="199.4" stroke="#e88a1c" stroke-width="1.3"/>
<path d="M98.8 201.61 L100.88 197.97 L96.72 197.97 Z" fill="#e88a1c"/>
<text x="106.8" y="201.4" font-size="5.6" text-anchor="start" fill="#222" font-weight="normal" stroke="#222" stroke-width="0.12" textLength="34.3" lengthAdjust="spacingAndGlyphs">J+S1 (558 nM)</text>
<text x="186.8" y="181.8" font-size="12.2" text-anchor="start" fill="#000" font-weight="bold">D</text>
<line x1="215.8" y1="215.6" x2="215.8" y2="288.4" stroke="#000" stroke-width="1.4"/>
<line x1="215.1" y1="287.7" x2="326.7" y2="287.7" stroke="#000" stroke-width="1.4"/>
<line x1="213.3" y1="287.7" x2="215.8" y2="287.7" stroke="#000" stroke-width="1"/>
<text x="210" y="290" font-size="6.6" text-anchor="end" fill="#222" font-weight="normal" stroke="#222" stroke-width="0.12">0</text>
<line x1="213.3" y1="257.55" x2="215.8" y2="257.55" stroke="#000" stroke-width="1"/>
<text x="210" y="259.85" font-size="6.6" text-anchor="end" fill="#222" font-weight="normal" stroke="#222" stroke-width="0.12">50</text>
<line x1="213.3" y1="227.4" x2="215.8" y2="227.4" stroke="#000" stroke-width="1"/>
<text x="210" y="229.7" font-size="6.6" text-anchor="end" fill="#222" font-weight="normal" stroke="#222" stroke-width="0.12" textLength="10" lengthAdjust="spacingAndGlyphs">100</text>
<line x1="215.8" y1="287.7" x2="215.8" y2="290.2" stroke="#000" stroke-width="1"/>
<text x="214.6" y="299.3" font-size="6.4" text-anchor="middle" fill="#222" font-weight="normal" stroke="#222" stroke-width="0.12" textLength="6.2" lengthAdjust="spacingAndGlyphs">10</text>
<text x="218.3" y="295.9" font-size="4.3" text-anchor="start" fill="#222" font-weight="normal" stroke="#222" stroke-width="0.12">0</text>
<line x1="242.9" y1="287.7" x2="242.9" y2="290.2" stroke="#000" stroke-width="1"/>
<text x="241.7" y="299.3" font-size="6.4" text-anchor="middle" fill="#222" font-weight="normal" stroke="#222" stroke-width="0.12" textLength="6.2" lengthAdjust="spacingAndGlyphs">10</text>
<text x="245.4" y="295.9" font-size="4.3" text-anchor="start" fill="#222" font-weight="normal" stroke="#222" stroke-width="0.12">1</text>
<line x1="270" y1="287.7" x2="270" y2="290.2" stroke="#000" stroke-width="1"/>
<text x="268.8" y="299.3" font-size="6.4" text-anchor="middle" fill="#222" font-weight="normal" stroke="#222" stroke-width="0.12" textLength="6.2" lengthAdjust="spacingAndGlyphs">10</text>
<text x="272.5" y="295.9" font-size="4.3" text-anchor="start" fill="#222" font-weight="normal" stroke="#222" stroke-width="0.12">2</text>
<line x1="297.1" y1="287.7" x2="297.1" y2="290.2" stroke="#000" stroke-width="1"/>
<text x="295.9" y="299.3" font-size="6.4" text-anchor="middle" fill="#222" font-weight="normal" stroke="#222" stroke-width="0.12" textLength="6.2" lengthAdjust="spacingAndGlyphs">10</text>
<text x="299.6" y="295.9" font-size="4.3" text-anchor="start" fill="#222" font-weight="normal" stroke="#222" stroke-width="0.12">3</text>
<line x1="324.2" y1="287.7" x2="324.2" y2="290.2" stroke="#000" stroke-width="1"/>
<text x="323" y="299.3" font-size="6.4" text-anchor="middle" fill="#222" font-weight="normal" stroke="#222" stroke-width="0.12" textLength="6.2" lengthAdjust="spacingAndGlyphs">10</text>
<text x="326.7" y="295.9" font-size="4.3" text-anchor="start" fill="#222" font-weight="normal" stroke="#222" stroke-width="0.12">4</text>
<line x1="215.8" y1="257.85" x2="324.5" y2="257.85" stroke="#737373" stroke-width="2"/>
<text x="193.6" y="251.5" font-size="8.4" text-anchor="middle" fill="#222" font-weight="normal" stroke="#222" stroke-width="0.24" transform="rotate(-90 193.6 251.5)" textLength="30.4" lengthAdjust="spacingAndGlyphs">% viability</text>
<text x="271.5" y="311.8" font-size="7.7" text-anchor="middle" fill="#222" font-weight="normal" stroke="#222" stroke-width="0.24" textLength="43.8" lengthAdjust="spacingAndGlyphs">[17-AAG] (nM)</text>
<path d="M215.8 227.4 L217.96 227.39 L220.9 227.36 L224.42 227.31 L228.28 227.27 L232.28 227.27 L236.19 227.32 L239.81 227.46 L242.9 227.7 L245.56 228.07 L248.04 228.56 L250.35 229.13 L252.5 229.76 L254.53 230.41 L256.44 231.06 L258.24 231.67 L259.97 232.22 L261.54 232.69 L262.89 233.09 L264.09 233.46 L265.21 233.83 L266.29 234.22 L267.41 234.66 L268.63 235.19 L270 235.84 L271.53 236.59 L273.14 237.39 L274.82 238.26 L276.55 239.2 L278.31 240.2 L280.08 241.28 L281.83 242.44 L283.55 243.68 L285.26 245.05 L287 246.55 L288.75 248.16 L290.49 249.82 L292.22 251.52 L293.9 253.19 L295.54 254.81 L297.1 256.34 L298.6 257.8 L300.06 259.24 L301.48 260.65 L302.86 262.03 L304.19 263.38 L305.48 264.7 L306.73 265.97 L307.94 267.2 L309.14 268.43 L310.35 269.68 L311.54 270.91 L312.68 272.1 L313.74 273.2 L314.67 274.18 L315.46 275.01 L316.07 275.64" stroke="#bcbcbc" stroke-width="1.25" fill="none"/>
<line x1="215.8" y1="226.4" x2="215.8" y2="228.4" stroke="#bcbcbc" stroke-width="0.7"/>
<line x1="214.3" y1="226.4" x2="217.3" y2="226.4" stroke="#bcbcbc" stroke-width="0.7"/>
<line x1="214.3" y1="228.4" x2="217.3" y2="228.4" stroke="#bcbcbc" stroke-width="0.7"/>
<circle cx="215.8" cy="227.4" r="1.61" fill="#bcbcbc"/>
<line x1="234.77" y1="226.4" x2="234.77" y2="228.4" stroke="#bcbcbc" stroke-width="0.7"/>
<line x1="233.27" y1="226.4" x2="236.27" y2="226.4" stroke="#bcbcbc" stroke-width="0.7"/>
<line x1="233.27" y1="228.4" x2="236.27" y2="228.4" stroke="#bcbcbc" stroke-width="0.7"/>
<circle cx="234.77" cy="227.4" r="1.61" fill="#bcbcbc"/>
<line x1="242.9" y1="223.69" x2="242.9" y2="228.69" stroke="#bcbcbc" stroke-width="0.7"/>
<line x1="241.4" y1="223.69" x2="244.4" y2="223.69" stroke="#bcbcbc" stroke-width="0.7"/>
<line x1="241.4" y1="228.69" x2="244.4" y2="228.69" stroke="#bcbcbc" stroke-width="0.7"/>
<circle cx="242.9" cy="226.19" r="1.61" fill="#bcbcbc"/>
<line x1="261.87" y1="230.92" x2="261.87" y2="232.92" stroke="#bcbcbc" stroke-width="0.7"/>
<line x1="260.37" y1="230.92" x2="263.37" y2="230.92" stroke="#bcbcbc" stroke-width="0.7"/>
<line x1="260.37" y1="232.92" x2="263.37" y2="232.92" stroke="#bcbcbc" stroke-width="0.7"/>
<circle cx="261.87" cy="231.92" r="1.61" fill="#bcbcbc"/>
<line x1="270" y1="235.15" x2="270" y2="240.15" stroke="#bcbcbc" stroke-width="0.7"/>
<line x1="268.5" y1="235.15" x2="271.5" y2="235.15" stroke="#bcbcbc" stroke-width="0.7"/>
<line x1="268.5" y1="240.15" x2="271.5" y2="240.15" stroke="#bcbcbc" stroke-width="0.7"/>
<circle cx="270" cy="237.65" r="1.61" fill="#bcbcbc"/>
<line x1="280.84" y1="241.29" x2="280.84" y2="243.29" stroke="#bcbcbc" stroke-width="0.7"/>
<line x1="279.34" y1="241.29" x2="282.34" y2="241.29" stroke="#bcbcbc" stroke-width="0.7"/>
<line x1="279.34" y1="243.29" x2="282.34" y2="243.29" stroke="#bcbcbc" stroke-width="0.7"/>
<circle cx="280.84" cy="242.29" r="1.61" fill="#bcbcbc"/>
<line x1="288.97" y1="247.08" x2="288.97" y2="249.08" stroke="#bcbcbc" stroke-width="0.7"/>
<line x1="287.47" y1="247.08" x2="290.47" y2="247.08" stroke="#bcbcbc" stroke-width="0.7"/>
<line x1="287.47" y1="249.08" x2="290.47" y2="249.08" stroke="#bcbcbc" stroke-width="0.7"/>
<circle cx="288.97" cy="248.08" r="1.61" fill="#bcbcbc"/>
<line x1="297.1" y1="249.02" x2="297.1" y2="254.02" stroke="#bcbcbc" stroke-width="0.7"/>
<line x1="295.6" y1="249.02" x2="298.6" y2="249.02" stroke="#bcbcbc" stroke-width="0.7"/>
<line x1="295.6" y1="254.02" x2="298.6" y2="254.02" stroke="#bcbcbc" stroke-width="0.7"/>
<circle cx="297.1" cy="251.52" r="1.61" fill="#bcbcbc"/>
<line x1="307.94" y1="268.01" x2="307.94" y2="270.01" stroke="#bcbcbc" stroke-width="0.7"/>
<line x1="306.44" y1="268.01" x2="309.44" y2="268.01" stroke="#bcbcbc" stroke-width="0.7"/>
<line x1="306.44" y1="270.01" x2="309.44" y2="270.01" stroke="#bcbcbc" stroke-width="0.7"/>
<circle cx="307.94" cy="269.01" r="1.61" fill="#bcbcbc"/>
<line x1="316.07" y1="273.74" x2="316.07" y2="275.74" stroke="#bcbcbc" stroke-width="0.7"/>
<line x1="314.57" y1="273.74" x2="317.57" y2="273.74" stroke="#bcbcbc" stroke-width="0.7"/>
<line x1="314.57" y1="275.74" x2="317.57" y2="275.74" stroke="#bcbcbc" stroke-width="0.7"/>
<circle cx="316.07" cy="274.74" r="1.61" fill="#bcbcbc"/>
<path d="M215.8 229.21 L220.26 229.2 L226.49 229.19 L233.94 229.18 L242.05 229.17 L250.27 229.16 L258.04 229.17 L264.8 229.18 L270 229.21 L273.64 229.25 L276.25 229.29 L278.06 229.34 L279.32 229.4 L280.26 229.47 L281.12 229.56 L282.13 229.67 L283.55 229.81 L285.26 229.95 L287 230.07 L288.75 230.19 L290.49 230.34 L292.22 230.54 L293.9 230.8 L295.54 231.16 L297.1 231.62 L298.6 232.19 L300.06 232.84 L301.48 233.56 L302.86 234.36 L304.19 235.24 L305.48 236.18 L306.73 237.18 L307.94 238.25 L309.14 239.49 L310.35 240.95 L311.54 242.53 L312.68 244.16 L313.74 245.73 L314.67 247.15 L315.46 248.35 L316.07 249.23" stroke="#555555" stroke-width="1.25" fill="none"/>
<line x1="215.8" y1="226.4" x2="215.8" y2="228.4" stroke="#555555" stroke-width="0.7"/>
<line x1="214.3" y1="226.4" x2="217.3" y2="226.4" stroke="#555555" stroke-width="0.7"/>
<line x1="214.3" y1="228.4" x2="217.3" y2="228.4" stroke="#555555" stroke-width="0.7"/>
<circle cx="215.8" cy="227.4" r="1.61" fill="#555555"/>
<line x1="234.77" y1="227.61" x2="234.77" y2="229.61" stroke="#555555" stroke-width="0.7"/>
<line x1="233.27" y1="227.61" x2="236.27" y2="227.61" stroke="#555555" stroke-width="0.7"/>
<line x1="233.27" y1="229.61" x2="236.27" y2="229.61" stroke="#555555" stroke-width="0.7"/>
<circle cx="234.77" cy="228.61" r="1.61" fill="#555555"/>
<line x1="242.9" y1="228.57" x2="242.9" y2="230.57" stroke="#555555" stroke-width="0.7"/>
<line x1="241.4" y1="228.57" x2="244.4" y2="228.57" stroke="#555555" stroke-width="0.7"/>
<line x1="241.4" y1="230.57" x2="244.4" y2="230.57" stroke="#555555" stroke-width="0.7"/>
<circle cx="242.9" cy="229.57" r="1.61" fill="#555555"/>
<line x1="261.87" y1="230.63" x2="261.87" y2="235.63" stroke="#555555" stroke-width="0.7"/>
<line x1="260.37" y1="230.63" x2="263.37" y2="230.63" stroke="#555555" stroke-width="0.7"/>
<line x1="260.37" y1="235.63" x2="263.37" y2="235.63" stroke="#555555" stroke-width="0.7"/>
<circle cx="261.87" cy="233.13" r="1.61" fill="#555555"/>
<line x1="270" y1="226.4" x2="270" y2="228.4" stroke="#555555" stroke-width="0.7"/>
<line x1="268.5" y1="226.4" x2="271.5" y2="226.4" stroke="#555555" stroke-width="0.7"/>
<line x1="268.5" y1="228.4" x2="271.5" y2="228.4" stroke="#555555" stroke-width="0.7"/>
<circle cx="270" cy="227.4" r="1.61" fill="#555555"/>
<line x1="280.84" y1="223.21" x2="280.84" y2="228.21" stroke="#555555" stroke-width="0.7"/>
<line x1="279.34" y1="223.21" x2="282.34" y2="223.21" stroke="#555555" stroke-width="0.7"/>
<line x1="279.34" y1="228.21" x2="282.34" y2="228.21" stroke="#555555" stroke-width="0.7"/>
<circle cx="280.84" cy="225.71" r="1.61" fill="#555555"/>
<line x1="288.97" y1="227.57" x2="288.97" y2="231.57" stroke="#555555" stroke-width="0.7"/>
<line x1="287.47" y1="227.57" x2="290.47" y2="227.57" stroke="#555555" stroke-width="0.7"/>
<line x1="287.47" y1="231.57" x2="290.47" y2="231.57" stroke="#555555" stroke-width="0.7"/>
<circle cx="288.97" cy="229.57" r="1.61" fill="#555555"/>
<line x1="297.1" y1="228.7" x2="297.1" y2="233.7" stroke="#555555" stroke-width="0.7"/>
<line x1="295.6" y1="228.7" x2="298.6" y2="228.7" stroke="#555555" stroke-width="0.7"/>
<line x1="295.6" y1="233.7" x2="298.6" y2="233.7" stroke="#555555" stroke-width="0.7"/>
<circle cx="297.1" cy="231.2" r="1.61" fill="#555555"/>
<line x1="307.94" y1="236.36" x2="307.94" y2="241.36" stroke="#555555" stroke-width="0.7"/>
<line x1="306.44" y1="236.36" x2="309.44" y2="236.36" stroke="#555555" stroke-width="0.7"/>
<line x1="306.44" y1="241.36" x2="309.44" y2="241.36" stroke="#555555" stroke-width="0.7"/>
<circle cx="307.94" cy="238.86" r="1.61" fill="#555555"/>
<line x1="316.07" y1="247.29" x2="316.07" y2="251.29" stroke="#555555" stroke-width="0.7"/>
<line x1="314.57" y1="247.29" x2="317.57" y2="247.29" stroke="#555555" stroke-width="0.7"/>
<line x1="314.57" y1="251.29" x2="317.57" y2="251.29" stroke="#555555" stroke-width="0.7"/>
<circle cx="316.07" cy="249.29" r="1.61" fill="#555555"/>
<path d="M215.8 228.61 L220.26 228.61 L226.49 228.6 L233.94 228.59 L242.05 228.59 L250.27 228.6 L258.04 228.66 L264.8 228.75 L270 228.91 L273.64 229.12 L276.25 229.37 L278.06 229.66 L279.32 229.98 L280.26 230.34 L281.12 230.74 L282.13 231.16 L283.55 231.62 L285.26 232.11 L287 232.65 L288.75 233.22 L290.49 233.83 L292.22 234.45 L293.9 235.1 L295.54 235.77 L297.1 236.44 L298.6 237.12 L300.06 237.8 L301.48 238.49 L302.86 239.2 L304.19 239.94 L305.48 240.73 L306.73 241.57 L307.94 242.47 L309.14 243.52 L310.35 244.74 L311.54 246.04 L312.68 247.37 L313.74 248.66 L314.67 249.82 L315.46 250.8 L316.07 251.52" stroke="#3a993a" stroke-width="1.25" fill="none"/>
<line x1="215.8" y1="226.4" x2="215.8" y2="228.4" stroke="#3a993a" stroke-width="0.7"/>
<line x1="214.3" y1="226.4" x2="217.3" y2="226.4" stroke="#3a993a" stroke-width="0.7"/>
<line x1="214.3" y1="228.4" x2="217.3" y2="228.4" stroke="#3a993a" stroke-width="0.7"/>
<rect x="214.19" y="225.79" width="3.22" height="3.22" fill="#3a993a" stroke="none" stroke-width="0"/>
<line x1="234.77" y1="226.4" x2="234.77" y2="228.4" stroke="#3a993a" stroke-width="0.7"/>
<line x1="233.27" y1="226.4" x2="236.27" y2="226.4" stroke="#3a993a" stroke-width="0.7"/>
<line x1="233.27" y1="228.4" x2="236.27" y2="228.4" stroke="#3a993a" stroke-width="0.7"/>
<rect x="233.16" y="225.79" width="3.22" height="3.22" fill="#3a993a" stroke="none" stroke-width="0"/>
<line x1="242.9" y1="229.29" x2="242.9" y2="231.29" stroke="#3a993a" stroke-width="0.7"/>
<line x1="241.4" y1="229.29" x2="244.4" y2="229.29" stroke="#3a993a" stroke-width="0.7"/>
<line x1="241.4" y1="231.29" x2="244.4" y2="231.29" stroke="#3a993a" stroke-width="0.7"/>
<rect x="241.29" y="228.68" width="3.22" height="3.22" fill="#3a993a" stroke="none" stroke-width="0"/>
<line x1="261.87" y1="227" x2="261.87" y2="229" stroke="#3a993a" stroke-width="0.7"/>
<line x1="260.37" y1="227" x2="263.37" y2="227" stroke="#3a993a" stroke-width="0.7"/>
<line x1="260.37" y1="229" x2="263.37" y2="229" stroke="#3a993a" stroke-width="0.7"/>
<rect x="260.26" y="226.39" width="3.22" height="3.22" fill="#3a993a" stroke="none" stroke-width="0"/>
<line x1="270" y1="226.4" x2="270" y2="228.4" stroke="#3a993a" stroke-width="0.7"/>
<line x1="268.5" y1="226.4" x2="271.5" y2="226.4" stroke="#3a993a" stroke-width="0.7"/>
<line x1="268.5" y1="228.4" x2="271.5" y2="228.4" stroke="#3a993a" stroke-width="0.7"/>
<rect x="268.39" y="225.79" width="3.22" height="3.22" fill="#3a993a" stroke="none" stroke-width="0"/>
<rect x="279.23" y="233.27" width="3.22" height="3.22" fill="#3a993a" stroke="none" stroke-width="0"/>
<rect x="287.36" y="233.27" width="3.22" height="3.22" fill="#3a993a" stroke="none" stroke-width="0"/>
<line x1="297.1" y1="234.42" x2="297.1" y2="236.42" stroke="#3a993a" stroke-width="0.7"/>
<line x1="295.6" y1="234.42" x2="298.6" y2="234.42" stroke="#3a993a" stroke-width="0.7"/>
<line x1="295.6" y1="236.42" x2="298.6" y2="236.42" stroke="#3a993a" stroke-width="0.7"/>
<rect x="295.49" y="233.81" width="3.22" height="3.22" fill="#3a993a" stroke="none" stroke-width="0"/>
<line x1="307.94" y1="239.06" x2="307.94" y2="241.06" stroke="#3a993a" stroke-width="0.7"/>
<line x1="306.44" y1="239.06" x2="309.44" y2="239.06" stroke="#3a993a" stroke-width="0.7"/>
<line x1="306.44" y1="241.06" x2="309.44" y2="241.06" stroke="#3a993a" stroke-width="0.7"/>
<rect x="306.33" y="238.45" width="3.22" height="3.22" fill="#3a993a" stroke="none" stroke-width="0"/>
<line x1="316.07" y1="250.52" x2="316.07" y2="252.52" stroke="#3a993a" stroke-width="0.7"/>
<line x1="314.57" y1="250.52" x2="317.57" y2="250.52" stroke="#3a993a" stroke-width="0.7"/>
<line x1="314.57" y1="252.52" x2="317.57" y2="252.52" stroke="#3a993a" stroke-width="0.7"/>
<rect x="314.46" y="249.91" width="3.22" height="3.22" fill="#3a993a" stroke="none" stroke-width="0"/>
<path d="M215.8 227.4 L216.53 227.77 L217.51 228.25 L218.67 228.83 L219.97 229.47 L221.33 230.16 L222.71 230.86 L224.05 231.56 L225.29 232.22 L226.46 232.88 L227.63 233.55 L228.8 234.24 L229.96 234.94 L231.12 235.63 L232.26 236.32 L233.39 237 L234.5 237.65 L235.52 238.25 L236.42 238.77 L237.26 239.27 L238.11 239.76 L239.03 240.3 L240.09 240.9 L241.36 241.62 L242.9 242.47 L244.81 243.54 L247.09 244.8 L249.61 246.19 L252.25 247.64 L254.89 249.09 L257.41 250.46 L259.68 251.7 L261.6 252.73 L263.11 253.55 L264.3 254.22 L265.28 254.78 L266.12 255.25 L266.93 255.67 L267.78 256.08 L268.77 256.49 L270 256.95 L271.45 257.44 L273.03 257.94 L274.7 258.43 L276.45 258.91 L278.24 259.37 L280.04 259.8 L281.82 260.2 L283.55 260.56 L285.21 260.87 L286.81 261.13 L288.39 261.35 L289.99 261.54 L291.62 261.73 L293.33 261.92 L295.15 262.13 L297.1 262.37 L299.34 262.66 L301.91 262.99 L304.65 263.34 L307.43 263.69 L310.11 264.03 L312.53 264.34 L314.57 264.6 L316.07 264.79" stroke="#8b1e9b" stroke-width="1.25" fill="none"/>
<line x1="215.8" y1="226.4" x2="215.8" y2="228.4" stroke="#8b1e9b" stroke-width="0.7"/>
<line x1="214.3" y1="226.4" x2="217.3" y2="226.4" stroke="#8b1e9b" stroke-width="0.7"/>
<line x1="214.3" y1="228.4" x2="217.3" y2="228.4" stroke="#8b1e9b" stroke-width="0.7"/>
<path d="M215.8 225.44 L217.64 228.66 L213.96 228.66 Z" fill="#8b1e9b"/>
<line x1="234.77" y1="231.71" x2="234.77" y2="236.71" stroke="#8b1e9b" stroke-width="0.7"/>
<line x1="233.27" y1="231.71" x2="236.27" y2="231.71" stroke="#8b1e9b" stroke-width="0.7"/>
<line x1="233.27" y1="236.71" x2="236.27" y2="236.71" stroke="#8b1e9b" stroke-width="0.7"/>
<path d="M234.77 232.26 L236.61 235.48 L232.93 235.48 Z" fill="#8b1e9b"/>
<path d="M242.9 246.13 L244.74 249.35 L241.06 249.35 Z" fill="#8b1e9b"/>
<path d="M261.87 250.77 L263.71 253.99 L260.03 253.99 Z" fill="#8b1e9b"/>
<path d="M270 255.35 L271.84 258.57 L268.16 258.57 Z" fill="#8b1e9b"/>
<path d="M280.84 257.28 L282.68 260.5 L279 260.5 Z" fill="#8b1e9b"/>
<path d="M288.97 258.37 L290.81 261.59 L287.13 261.59 Z" fill="#8b1e9b"/>
<path d="M297.1 260.06 L298.94 263.28 L295.26 263.28 Z" fill="#8b1e9b"/>
<path d="M307.94 263.07 L309.78 266.29 L306.1 266.29 Z" fill="#8b1e9b"/>
<path d="M316.07 263.92 L317.91 267.14 L314.23 267.14 Z" fill="#8b1e9b"/>
<path d="M215.8 227.4 L216.21 227.51 L216.75 227.64 L217.39 227.79 L218.1 227.97 L218.87 228.19 L219.66 228.46 L220.45 228.8 L221.22 229.21 L221.97 229.59 L222.74 229.9 L223.53 230.21 L224.34 230.6 L225.16 231.16 L226 231.96 L226.85 233.1 L227.72 234.64 L228.62 236.73 L229.54 239.36 L230.49 242.37 L231.45 245.6 L232.42 248.9 L233.39 252.09 L234.36 255.03 L235.31 257.55 L236.24 259.72 L237.13 261.73 L238.01 263.58 L238.9 265.28 L239.82 266.84 L240.77 268.28 L241.8 269.6 L242.9 270.82 L244.06 271.9 L245.25 272.82 L246.49 273.61 L247.78 274.28 L249.14 274.86 L250.57 275.37 L252.1 275.82 L253.74 276.24 L255.31 276.6 L256.73 276.86 L258.13 277.04 L259.67 277.17 L261.48 277.25 L263.71 277.31 L266.5 277.37 L270 277.45 L274.65 277.53 L280.5 277.6 L287.12 277.64 L294.05 277.68 L300.86 277.7 L307.09 277.72 L312.31 277.73 L316.07 277.75" stroke="#e88a1c" stroke-width="1.25" fill="none"/>
<line x1="215.8" y1="226.4" x2="215.8" y2="228.4" stroke="#e88a1c" stroke-width="0.7"/>
<line x1="214.3" y1="226.4" x2="217.3" y2="226.4" stroke="#e88a1c" stroke-width="0.7"/>
<line x1="214.3" y1="228.4" x2="217.3" y2="228.4" stroke="#e88a1c" stroke-width="0.7"/>
<path d="M215.8 229.35 L217.64 226.13 L213.96 226.13 Z" fill="#e88a1c"/>
<path d="M234.77 258.3 L236.61 255.08 L232.93 255.08 Z" fill="#e88a1c"/>
<path d="M242.9 273.37 L244.74 270.15 L241.06 270.15 Z" fill="#e88a1c"/>
<line x1="261.87" y1="272.53" x2="261.87" y2="274.53" stroke="#e88a1c" stroke-width="0.7"/>
<line x1="260.37" y1="272.53" x2="263.37" y2="272.53" stroke="#e88a1c" stroke-width="0.7"/>
<line x1="260.37" y1="274.53" x2="263.37" y2="274.53" stroke="#e88a1c" stroke-width="0.7"/>
<path d="M261.87 275.48 L263.71 272.26 L260.03 272.26 Z" fill="#e88a1c"/>
<line x1="270" y1="276.03" x2="270" y2="278.03" stroke="#e88a1c" stroke-width="0.7"/>
<line x1="268.5" y1="276.03" x2="271.5" y2="276.03" stroke="#e88a1c" stroke-width="0.7"/>
<line x1="268.5" y1="278.03" x2="271.5" y2="278.03" stroke="#e88a1c" stroke-width="0.7"/>
<path d="M270 278.98 L271.84 275.76 L268.16 275.76 Z" fill="#e88a1c"/>
<path d="M280.84 279.4 L282.68 276.18 L279 276.18 Z" fill="#e88a1c"/>
<path d="M288.97 280.01 L290.81 276.79 L287.13 276.79 Z" fill="#e88a1c"/>
<path d="M297.1 280.31 L298.94 277.09 L295.26 277.09 Z" fill="#e88a1c"/>
<path d="M307.94 280.31 L309.78 277.09 L306.1 277.09 Z" fill="#e88a1c"/>
<line x1="316.07" y1="277.35" x2="316.07" y2="279.35" stroke="#e88a1c" stroke-width="0.7"/>
<line x1="314.57" y1="277.35" x2="317.57" y2="277.35" stroke="#e88a1c" stroke-width="0.7"/>
<line x1="314.57" y1="279.35" x2="317.57" y2="279.35" stroke="#e88a1c" stroke-width="0.7"/>
<path d="M316.07 280.31 L317.91 277.09 L314.23 277.09 Z" fill="#e88a1c"/>
<line x1="218.7" y1="190.3" x2="228" y2="190.3" stroke="#555555" stroke-width="1.3"/>
<circle cx="223.3" cy="190.3" r="1.82" fill="#555555"/>
<text x="231.3" y="192.3" font-size="5.6" text-anchor="start" fill="#222" font-weight="normal" stroke="#222" stroke-width="0.12" textLength="32.52" lengthAdjust="spacingAndGlyphs">Thy (9.67 µM)</text>
<line x1="218.7" y1="199.4" x2="228" y2="199.4" stroke="#bcbcbc" stroke-width="1.3"/>
<circle cx="223.3" cy="199.4" r="1.82" fill="#bcbcbc"/>
<text x="231.3" y="201.4" font-size="5.6" text-anchor="start" fill="#222" font-weight="normal" stroke="#222" stroke-width="0.12" textLength="38.31" lengthAdjust="spacingAndGlyphs">HSPC (1.26 µM)</text>
<line x1="218.7" y1="208.5" x2="228" y2="208.5" stroke="#3a993a" stroke-width="1.3"/>
<rect x="221.48" y="206.68" width="3.64" height="3.64" fill="#3a993a" stroke="none" stroke-width="0"/>
<text x="231.3" y="210.5" font-size="5.6" text-anchor="start" fill="#222" font-weight="normal" stroke="#222" stroke-width="0.12" textLength="26.44" lengthAdjust="spacingAndGlyphs">J (7.57 µM)</text>
<line x1="278.4" y1="190.3" x2="287.7" y2="190.3" stroke="#8b1e9b" stroke-width="1.3"/>
<path d="M283 188.09 L285.08 191.73 L280.92 191.73 Z" fill="#8b1e9b"/>
<text x="291" y="192.3" font-size="5.6" text-anchor="start" fill="#222" font-weight="normal" stroke="#222" stroke-width="0.12" textLength="28.66" lengthAdjust="spacingAndGlyphs">S1 (160 nM)</text>
<line x1="278.4" y1="199.4" x2="287.7" y2="199.4" stroke="#e88a1c" stroke-width="1.3"/>
<path d="M283 201.61 L285.08 197.97 L280.92 197.97 Z" fill="#e88a1c"/>
<text x="291" y="201.4" font-size="5.6" text-anchor="start" fill="#222" font-weight="normal" stroke="#222" stroke-width="0.12" textLength="32.85" lengthAdjust="spacingAndGlyphs">J+S1 (5.3 nM)</text>
<text x="363.8" y="181.8" font-size="12.2" text-anchor="start" fill="#000" font-weight="bold">E</text>
<line x1="392.3" y1="215.6" x2="392.3" y2="288.4" stroke="#000" stroke-width="1.4"/>
<line x1="391.6" y1="287.7" x2="504" y2="287.7" stroke="#000" stroke-width="1.4"/>
<line x1="389.8" y1="287.7" x2="392.3" y2="287.7" stroke="#000" stroke-width="1"/>
<text x="386.5" y="290" font-size="6.6" text-anchor="end" fill="#222" font-weight="normal" stroke="#222" stroke-width="0.12">0</text>
<line x1="389.8" y1="254.6" x2="392.3" y2="254.6" stroke="#000" stroke-width="1"/>
<text x="386.5" y="256.9" font-size="6.6" text-anchor="end" fill="#222" font-weight="normal" stroke="#222" stroke-width="0.12">50</text>
<line x1="389.8" y1="221.5" x2="392.3" y2="221.5" stroke="#000" stroke-width="1"/>
<text x="386.5" y="223.8" font-size="6.6" text-anchor="end" fill="#222" font-weight="normal" stroke="#222" stroke-width="0.12" textLength="10" lengthAdjust="spacingAndGlyphs">100</text>
<line x1="392.3" y1="287.7" x2="392.3" y2="290.2" stroke="#000" stroke-width="1"/>
<text x="391.1" y="299.3" font-size="6.4" text-anchor="middle" fill="#222" font-weight="normal" stroke="#222" stroke-width="0.12" textLength="6.2" lengthAdjust="spacingAndGlyphs">10</text>
<text x="394.8" y="295.9" font-size="4.3" text-anchor="start" fill="#222" font-weight="normal" stroke="#222" stroke-width="0.12">0</text>
<line x1="419.6" y1="287.7" x2="419.6" y2="290.2" stroke="#000" stroke-width="1"/>
<text x="418.4" y="299.3" font-size="6.4" text-anchor="middle" fill="#222" font-weight="normal" stroke="#222" stroke-width="0.12" textLength="6.2" lengthAdjust="spacingAndGlyphs">10</text>
<text x="422.1" y="295.9" font-size="4.3" text-anchor="start" fill="#222" font-weight="normal" stroke="#222" stroke-width="0.12">1</text>
<line x1="446.9" y1="287.7" x2="446.9" y2="290.2" stroke="#000" stroke-width="1"/>
<text x="445.7" y="299.3" font-size="6.4" text-anchor="middle" fill="#222" font-weight="normal" stroke="#222" stroke-width="0.12" textLength="6.2" lengthAdjust="spacingAndGlyphs">10</text>
<text x="449.4" y="295.9" font-size="4.3" text-anchor="start" fill="#222" font-weight="normal" stroke="#222" stroke-width="0.12">2</text>
<line x1="474.2" y1="287.7" x2="474.2" y2="290.2" stroke="#000" stroke-width="1"/>
<text x="473" y="299.3" font-size="6.4" text-anchor="middle" fill="#222" font-weight="normal" stroke="#222" stroke-width="0.12" textLength="6.2" lengthAdjust="spacingAndGlyphs">10</text>
<text x="476.7" y="295.9" font-size="4.3" text-anchor="start" fill="#222" font-weight="normal" stroke="#222" stroke-width="0.12">3</text>
<line x1="501.5" y1="287.7" x2="501.5" y2="290.2" stroke="#000" stroke-width="1"/>
<text x="500.3" y="299.3" font-size="6.4" text-anchor="middle" fill="#222" font-weight="normal" stroke="#222" stroke-width="0.12" textLength="6.2" lengthAdjust="spacingAndGlyphs">10</text>
<text x="504" y="295.9" font-size="4.3" text-anchor="start" fill="#222" font-weight="normal" stroke="#222" stroke-width="0.12">4</text>
<line x1="392.3" y1="254.9" x2="501.8" y2="254.9" stroke="#737373" stroke-width="2"/>
<text x="370.1" y="251.5" font-size="8.4" text-anchor="middle" fill="#222" font-weight="normal" stroke="#222" stroke-width="0.24" transform="rotate(-90 370.1 251.5)" textLength="30.4" lengthAdjust="spacingAndGlyphs">% viability</text>
<text x="448.4" y="311.8" font-size="7.7" text-anchor="middle" fill="#222" font-weight="normal" stroke="#222" stroke-width="0.24" textLength="43.9" lengthAdjust="spacingAndGlyphs">[PU-H71] (nM)</text>
<path d="M392.3 220.18 L394.5 220.17 L397.53 220.14 L401.14 220.12 L405.1 220.09 L409.16 220.08 L413.09 220.08 L416.65 220.11 L419.6 220.18 L422 220.26 L424.1 220.34 L425.96 220.43 L427.62 220.55 L429.13 220.7 L430.54 220.91 L431.9 221.17 L433.25 221.5 L434.55 221.88 L435.75 222.3 L436.84 222.76 L437.86 223.28 L438.81 223.86 L439.71 224.53 L440.58 225.28 L441.44 226.13 L442.25 227.12 L443 228.23 L443.69 229.44 L444.34 230.73 L444.97 232.06 L445.6 233.41 L446.24 234.75 L446.9 236.06 L447.58 237.33 L448.25 238.57 L448.92 239.81 L449.6 241.07 L450.27 242.36 L450.96 243.71 L451.65 245.14 L452.36 246.66 L453.07 248.33 L453.78 250.17 L454.5 252.12 L455.23 254.1 L455.97 256.07 L456.74 257.95 L457.53 259.69 L458.37 261.22 L459.24 262.57 L460.15 263.81 L461.09 264.95 L462.05 265.98 L463.03 266.91 L464.02 267.75 L465.02 268.5 L466.01 269.16 L466.93 269.71 L467.76 270.11 L468.56 270.4 L469.39 270.61 L470.3 270.76 L471.37 270.89 L472.65 271.01 L474.2 271.15 L476.2 271.3 L478.66 271.42 L481.41 271.52 L484.27 271.61 L487.06 271.67 L489.62 271.72 L491.76 271.77 L493.31 271.81" stroke="#bcbcbc" stroke-width="1.25" fill="none"/>
<line x1="392.3" y1="219.37" x2="392.3" y2="221.37" stroke="#bcbcbc" stroke-width="0.7"/>
<line x1="390.8" y1="219.37" x2="393.8" y2="219.37" stroke="#bcbcbc" stroke-width="0.7"/>
<line x1="390.8" y1="221.37" x2="393.8" y2="221.37" stroke="#bcbcbc" stroke-width="0.7"/>
<circle cx="392.3" cy="220.37" r="1.61" fill="#bcbcbc"/>
<line x1="411.41" y1="215.62" x2="411.41" y2="220.62" stroke="#bcbcbc" stroke-width="0.7"/>
<line x1="409.91" y1="215.62" x2="412.91" y2="215.62" stroke="#bcbcbc" stroke-width="0.7"/>
<line x1="409.91" y1="220.62" x2="412.91" y2="220.62" stroke="#bcbcbc" stroke-width="0.7"/>
<circle cx="411.41" cy="218.12" r="1.61" fill="#bcbcbc"/>
<line x1="419.6" y1="215.69" x2="419.6" y2="220.69" stroke="#bcbcbc" stroke-width="0.7"/>
<line x1="418.1" y1="215.69" x2="421.1" y2="215.69" stroke="#bcbcbc" stroke-width="0.7"/>
<line x1="418.1" y1="220.69" x2="421.1" y2="220.69" stroke="#bcbcbc" stroke-width="0.7"/>
<circle cx="419.6" cy="218.19" r="1.61" fill="#bcbcbc"/>
<line x1="438.71" y1="218.6" x2="438.71" y2="223.6" stroke="#bcbcbc" stroke-width="0.7"/>
<line x1="437.21" y1="218.6" x2="440.21" y2="218.6" stroke="#bcbcbc" stroke-width="0.7"/>
<line x1="437.21" y1="223.6" x2="440.21" y2="223.6" stroke="#bcbcbc" stroke-width="0.7"/>
<circle cx="438.71" cy="221.1" r="1.61" fill="#bcbcbc"/>
<line x1="446.9" y1="237.54" x2="446.9" y2="242.54" stroke="#bcbcbc" stroke-width="0.7"/>
<line x1="445.4" y1="237.54" x2="448.4" y2="237.54" stroke="#bcbcbc" stroke-width="0.7"/>
<line x1="445.4" y1="242.54" x2="448.4" y2="242.54" stroke="#bcbcbc" stroke-width="0.7"/>
<circle cx="446.9" cy="240.04" r="1.61" fill="#bcbcbc"/>
<line x1="457.82" y1="257.51" x2="457.82" y2="259.51" stroke="#bcbcbc" stroke-width="0.7"/>
<line x1="456.32" y1="257.51" x2="459.32" y2="257.51" stroke="#bcbcbc" stroke-width="0.7"/>
<line x1="456.32" y1="259.51" x2="459.32" y2="259.51" stroke="#bcbcbc" stroke-width="0.7"/>
<circle cx="457.82" cy="258.51" r="1.61" fill="#bcbcbc"/>
<line x1="466.01" y1="266.71" x2="466.01" y2="268.71" stroke="#bcbcbc" stroke-width="0.7"/>
<line x1="464.51" y1="266.71" x2="467.51" y2="266.71" stroke="#bcbcbc" stroke-width="0.7"/>
<line x1="464.51" y1="268.71" x2="467.51" y2="268.71" stroke="#bcbcbc" stroke-width="0.7"/>
<circle cx="466.01" cy="267.71" r="1.61" fill="#bcbcbc"/>
<circle cx="474.2" cy="268.9" r="1.61" fill="#bcbcbc"/>
<circle cx="485.12" cy="271.22" r="1.61" fill="#bcbcbc"/>
<line x1="493.31" y1="272.47" x2="493.31" y2="274.47" stroke="#bcbcbc" stroke-width="0.7"/>
<line x1="491.81" y1="272.47" x2="494.81" y2="272.47" stroke="#bcbcbc" stroke-width="0.7"/>
<line x1="491.81" y1="274.47" x2="494.81" y2="274.47" stroke="#bcbcbc" stroke-width="0.7"/>
<circle cx="493.31" cy="273.47" r="1.61" fill="#bcbcbc"/>
<path d="M392.3 222.16 L394.5 222.18 L397.53 222.21 L401.14 222.23 L405.1 222.27 L409.16 222.31 L413.09 222.36 L416.65 222.42 L419.6 222.49 L421.96 222.57 L423.97 222.65 L425.72 222.73 L427.28 222.82 L428.73 222.94 L430.16 223.08 L431.64 223.26 L433.25 223.49 L434.97 223.74 L436.73 224.01 L438.49 224.31 L440.25 224.64 L441.98 225.02 L443.68 225.44 L445.32 225.92 L446.9 226.46 L448.36 227.07 L449.69 227.72 L450.96 228.42 L452.19 229.18 L453.45 229.98 L454.77 230.85 L456.21 231.77 L457.82 232.75 L459.64 233.85 L461.66 235.09 L463.8 236.41 L466.01 237.78 L468.22 239.14 L470.36 240.44 L472.38 241.64 L474.2 242.68 L475.84 243.59 L477.38 244.4 L478.81 245.14 L480.17 245.81 L481.46 246.42 L482.71 246.97 L483.92 247.49 L485.12 247.98 L486.33 248.43 L487.55 248.82 L488.75 249.17 L489.9 249.47 L490.96 249.73 L491.9 249.95 L492.7 250.14 L493.31 250.3" stroke="#555555" stroke-width="1.25" fill="none"/>
<line x1="392.3" y1="219.37" x2="392.3" y2="221.37" stroke="#555555" stroke-width="0.7"/>
<line x1="390.8" y1="219.37" x2="393.8" y2="219.37" stroke="#555555" stroke-width="0.7"/>
<line x1="390.8" y1="221.37" x2="393.8" y2="221.37" stroke="#555555" stroke-width="0.7"/>
<circle cx="392.3" cy="220.37" r="1.61" fill="#555555"/>
<line x1="411.41" y1="220.19" x2="411.41" y2="225.19" stroke="#555555" stroke-width="0.7"/>
<line x1="409.91" y1="220.19" x2="412.91" y2="220.19" stroke="#555555" stroke-width="0.7"/>
<line x1="409.91" y1="225.19" x2="412.91" y2="225.19" stroke="#555555" stroke-width="0.7"/>
<circle cx="411.41" cy="222.69" r="1.61" fill="#555555"/>
<line x1="419.6" y1="222.88" x2="419.6" y2="224.88" stroke="#555555" stroke-width="0.7"/>
<line x1="418.1" y1="222.88" x2="421.1" y2="222.88" stroke="#555555" stroke-width="0.7"/>
<line x1="418.1" y1="224.88" x2="421.1" y2="224.88" stroke="#555555" stroke-width="0.7"/>
<circle cx="419.6" cy="223.88" r="1.61" fill="#555555"/>
<line x1="438.71" y1="222.88" x2="438.71" y2="224.88" stroke="#555555" stroke-width="0.7"/>
<line x1="437.21" y1="222.88" x2="440.21" y2="222.88" stroke="#555555" stroke-width="0.7"/>
<line x1="437.21" y1="224.88" x2="440.21" y2="224.88" stroke="#555555" stroke-width="0.7"/>
<circle cx="438.71" cy="223.88" r="1.61" fill="#555555"/>
<line x1="446.9" y1="223.17" x2="446.9" y2="228.17" stroke="#555555" stroke-width="0.7"/>
<line x1="445.4" y1="223.17" x2="448.4" y2="223.17" stroke="#555555" stroke-width="0.7"/>
<line x1="445.4" y1="228.17" x2="448.4" y2="228.17" stroke="#555555" stroke-width="0.7"/>
<circle cx="446.9" cy="225.67" r="1.61" fill="#555555"/>
<line x1="457.82" y1="231.62" x2="457.82" y2="233.62" stroke="#555555" stroke-width="0.7"/>
<line x1="456.32" y1="231.62" x2="459.32" y2="231.62" stroke="#555555" stroke-width="0.7"/>
<line x1="456.32" y1="233.62" x2="459.32" y2="233.62" stroke="#555555" stroke-width="0.7"/>
<circle cx="457.82" cy="232.62" r="1.61" fill="#555555"/>
<line x1="466.01" y1="237.91" x2="466.01" y2="239.91" stroke="#555555" stroke-width="0.7"/>
<line x1="464.51" y1="237.91" x2="467.51" y2="237.91" stroke="#555555" stroke-width="0.7"/>
<line x1="464.51" y1="239.91" x2="467.51" y2="239.91" stroke="#555555" stroke-width="0.7"/>
<circle cx="466.01" cy="238.91" r="1.61" fill="#555555"/>
<line x1="474.2" y1="240.29" x2="474.2" y2="244.29" stroke="#555555" stroke-width="0.7"/>
<line x1="472.7" y1="240.29" x2="475.7" y2="240.29" stroke="#555555" stroke-width="0.7"/>
<line x1="472.7" y1="244.29" x2="475.7" y2="244.29" stroke="#555555" stroke-width="0.7"/>
<circle cx="474.2" cy="242.29" r="1.61" fill="#555555"/>
<line x1="485.12" y1="245.38" x2="485.12" y2="249.38" stroke="#555555" stroke-width="0.7"/>
<line x1="483.62" y1="245.38" x2="486.62" y2="245.38" stroke="#555555" stroke-width="0.7"/>
<line x1="483.62" y1="249.38" x2="486.62" y2="249.38" stroke="#555555" stroke-width="0.7"/>
<circle cx="485.12" cy="247.38" r="1.61" fill="#555555"/>
<line x1="493.31" y1="247.93" x2="493.31" y2="252.93" stroke="#555555" stroke-width="0.7"/>
<line x1="491.81" y1="247.93" x2="494.81" y2="247.93" stroke="#555555" stroke-width="0.7"/>
<line x1="491.81" y1="252.93" x2="494.81" y2="252.93" stroke="#555555" stroke-width="0.7"/>
<circle cx="493.31" cy="250.43" r="1.61" fill="#555555"/>
<path d="M392.3 222.16 L394.46 222.15 L397.4 222.12 L400.91 222.07 L404.77 222.04 L408.78 222.02 L412.73 222.02 L416.41 222.07 L419.6 222.16 L422.43 222.32 L425.15 222.52 L427.74 222.76 L430.2 223.03 L432.5 223.32 L434.66 223.6 L436.64 223.89 L438.44 224.15 L439.97 224.36 L441.22 224.53 L442.26 224.68 L443.16 224.83 L444 225.03 L444.85 225.29 L445.8 225.65 L446.9 226.13 L448.11 226.73 L449.33 227.4 L450.58 228.15 L451.87 228.97 L453.22 229.87 L454.65 230.85 L456.18 231.9 L457.82 233.02 L459.64 234.29 L461.66 235.75 L463.8 237.32 L466.01 238.94 L468.22 240.56 L470.36 242.09 L472.38 243.49 L474.2 244.67 L475.84 245.67 L477.38 246.54 L478.81 247.32 L480.17 247.99 L481.46 248.58 L482.71 249.1 L483.92 249.56 L485.12 249.97 L486.33 250.29 L487.55 250.51 L488.75 250.65 L489.9 250.73 L490.96 250.76 L491.9 250.78 L492.7 250.79 L493.31 250.83" stroke="#3a993a" stroke-width="1.25" fill="none"/>
<line x1="392.3" y1="220.1" x2="392.3" y2="222.1" stroke="#3a993a" stroke-width="0.7"/>
<line x1="390.8" y1="220.1" x2="393.8" y2="220.1" stroke="#3a993a" stroke-width="0.7"/>
<line x1="390.8" y1="222.1" x2="393.8" y2="222.1" stroke="#3a993a" stroke-width="0.7"/>
<rect x="390.69" y="219.49" width="3.22" height="3.22" fill="#3a993a" stroke="none" stroke-width="0"/>
<line x1="411.41" y1="219.37" x2="411.41" y2="221.37" stroke="#3a993a" stroke-width="0.7"/>
<line x1="409.91" y1="219.37" x2="412.91" y2="219.37" stroke="#3a993a" stroke-width="0.7"/>
<line x1="409.91" y1="221.37" x2="412.91" y2="221.37" stroke="#3a993a" stroke-width="0.7"/>
<rect x="409.8" y="218.76" width="3.22" height="3.22" fill="#3a993a" stroke="none" stroke-width="0"/>
<line x1="419.6" y1="221.69" x2="419.6" y2="223.69" stroke="#3a993a" stroke-width="0.7"/>
<line x1="418.1" y1="221.69" x2="421.1" y2="221.69" stroke="#3a993a" stroke-width="0.7"/>
<line x1="418.1" y1="223.69" x2="421.1" y2="223.69" stroke="#3a993a" stroke-width="0.7"/>
<rect x="417.99" y="221.08" width="3.22" height="3.22" fill="#3a993a" stroke="none" stroke-width="0"/>
<line x1="438.71" y1="223.28" x2="438.71" y2="225.28" stroke="#3a993a" stroke-width="0.7"/>
<line x1="437.21" y1="223.28" x2="440.21" y2="223.28" stroke="#3a993a" stroke-width="0.7"/>
<line x1="437.21" y1="225.28" x2="440.21" y2="225.28" stroke="#3a993a" stroke-width="0.7"/>
<rect x="437.1" y="222.67" width="3.22" height="3.22" fill="#3a993a" stroke="none" stroke-width="0"/>
<line x1="446.9" y1="225.2" x2="446.9" y2="227.2" stroke="#3a993a" stroke-width="0.7"/>
<line x1="445.4" y1="225.2" x2="448.4" y2="225.2" stroke="#3a993a" stroke-width="0.7"/>
<line x1="445.4" y1="227.2" x2="448.4" y2="227.2" stroke="#3a993a" stroke-width="0.7"/>
<rect x="445.29" y="224.59" width="3.22" height="3.22" fill="#3a993a" stroke="none" stroke-width="0"/>
<line x1="457.82" y1="231.62" x2="457.82" y2="233.62" stroke="#3a993a" stroke-width="0.7"/>
<line x1="456.32" y1="231.62" x2="459.32" y2="231.62" stroke="#3a993a" stroke-width="0.7"/>
<line x1="456.32" y1="233.62" x2="459.32" y2="233.62" stroke="#3a993a" stroke-width="0.7"/>
<rect x="456.21" y="231.01" width="3.22" height="3.22" fill="#3a993a" stroke="none" stroke-width="0"/>
<line x1="466.01" y1="239.04" x2="466.01" y2="241.04" stroke="#3a993a" stroke-width="0.7"/>
<line x1="464.51" y1="239.04" x2="467.51" y2="239.04" stroke="#3a993a" stroke-width="0.7"/>
<line x1="464.51" y1="241.04" x2="467.51" y2="241.04" stroke="#3a993a" stroke-width="0.7"/>
<rect x="464.4" y="238.43" width="3.22" height="3.22" fill="#3a993a" stroke="none" stroke-width="0"/>
<line x1="474.2" y1="243.6" x2="474.2" y2="245.6" stroke="#3a993a" stroke-width="0.7"/>
<line x1="472.7" y1="243.6" x2="475.7" y2="243.6" stroke="#3a993a" stroke-width="0.7"/>
<line x1="472.7" y1="245.6" x2="475.7" y2="245.6" stroke="#3a993a" stroke-width="0.7"/>
<rect x="472.59" y="242.99" width="3.22" height="3.22" fill="#3a993a" stroke="none" stroke-width="0"/>
<line x1="485.12" y1="250.09" x2="485.12" y2="252.09" stroke="#3a993a" stroke-width="0.7"/>
<line x1="483.62" y1="250.09" x2="486.62" y2="250.09" stroke="#3a993a" stroke-width="0.7"/>
<line x1="483.62" y1="252.09" x2="486.62" y2="252.09" stroke="#3a993a" stroke-width="0.7"/>
<rect x="483.51" y="249.48" width="3.22" height="3.22" fill="#3a993a" stroke="none" stroke-width="0"/>
<line x1="493.31" y1="248.59" x2="493.31" y2="253.59" stroke="#3a993a" stroke-width="0.7"/>
<line x1="491.81" y1="248.59" x2="494.81" y2="248.59" stroke="#3a993a" stroke-width="0.7"/>
<line x1="491.81" y1="253.59" x2="494.81" y2="253.59" stroke="#3a993a" stroke-width="0.7"/>
<rect x="491.7" y="249.48" width="3.22" height="3.22" fill="#3a993a" stroke="none" stroke-width="0"/>
<path d="M392.3 222.82 L394.54 222.91 L397.65 223.02 L401.38 223.14 L405.44 223.28 L409.56 223.45 L413.48 223.65 L416.92 223.88 L419.6 224.15 L421.52 224.4 L422.93 224.6 L423.96 224.81 L424.74 225.06 L425.38 225.4 L426.02 225.89 L426.78 226.56 L427.79 227.46 L429.02 228.63 L430.33 230.04 L431.7 231.64 L433.1 233.37 L434.5 235.2 L435.87 237.06 L437.19 238.91 L438.44 240.7 L439.59 242.52 L440.67 244.46 L441.7 246.46 L442.7 248.46 L443.7 250.4 L444.72 252.22 L445.78 253.86 L446.9 255.26 L448.04 256.41 L449.14 257.36 L450.26 258.15 L451.4 258.8 L452.62 259.37 L453.94 259.87 L455.39 260.34 L457 260.82 L458.8 261.28 L460.76 261.68 L462.85 262.02 L465.04 262.32 L467.3 262.58 L469.6 262.81 L471.91 263.01 L474.2 263.21 L476.63 263.38 L479.29 263.51 L482.07 263.61 L484.83 263.69 L487.46 263.74 L489.83 263.79 L491.82 263.83 L493.31 263.87" stroke="#8b1e9b" stroke-width="1.25" fill="none"/>
<line x1="392.3" y1="221.03" x2="392.3" y2="223.03" stroke="#8b1e9b" stroke-width="0.7"/>
<line x1="390.8" y1="221.03" x2="393.8" y2="221.03" stroke="#8b1e9b" stroke-width="0.7"/>
<line x1="390.8" y1="223.03" x2="393.8" y2="223.03" stroke="#8b1e9b" stroke-width="0.7"/>
<path d="M392.3 220.07 L394.14 223.29 L390.46 223.29 Z" fill="#8b1e9b"/>
<line x1="411.41" y1="219" x2="411.41" y2="224" stroke="#8b1e9b" stroke-width="0.7"/>
<line x1="409.91" y1="219" x2="412.91" y2="219" stroke="#8b1e9b" stroke-width="0.7"/>
<line x1="409.91" y1="224" x2="412.91" y2="224" stroke="#8b1e9b" stroke-width="0.7"/>
<path d="M411.41 219.54 L413.25 222.76 L409.57 222.76 Z" fill="#8b1e9b"/>
<line x1="419.6" y1="224.83" x2="419.6" y2="229.83" stroke="#8b1e9b" stroke-width="0.7"/>
<line x1="418.1" y1="224.83" x2="421.1" y2="224.83" stroke="#8b1e9b" stroke-width="0.7"/>
<line x1="418.1" y1="229.83" x2="421.1" y2="229.83" stroke="#8b1e9b" stroke-width="0.7"/>
<path d="M419.6 225.37 L421.44 228.59 L417.76 228.59 Z" fill="#8b1e9b"/>
<path d="M438.71 238.08 L440.55 241.3 L436.87 241.3 Z" fill="#8b1e9b"/>
<path d="M446.9 253.04 L448.74 256.26 L445.06 256.26 Z" fill="#8b1e9b"/>
<path d="M457.82 257.74 L459.66 260.96 L455.98 260.96 Z" fill="#8b1e9b"/>
<path d="M466.01 260.06 L467.85 263.28 L464.17 263.28 Z" fill="#8b1e9b"/>
<path d="M474.2 261.65 L476.04 264.87 L472.36 264.87 Z" fill="#8b1e9b"/>
<path d="M485.12 263.04 L486.96 266.26 L483.28 266.26 Z" fill="#8b1e9b"/>
<path d="M493.31 263.04 L495.15 266.26 L491.47 266.26 Z" fill="#8b1e9b"/>
<path d="M392.3 216.87 L393.8 217.14 L395.87 217.46 L398.33 217.83 L401.04 218.27 L403.81 218.79 L406.48 219.38 L408.89 220.06 L410.86 220.84 L412.44 221.72 L413.79 222.71 L414.96 223.8 L415.98 224.96 L416.92 226.18 L417.8 227.46 L418.68 228.77 L419.6 230.11 L420.54 231.49 L421.44 232.94 L422.3 234.45 L423.13 236.01 L423.93 237.58 L424.7 239.16 L425.44 240.74 L426.15 242.29 L426.8 243.84 L427.38 245.43 L427.9 247.03 L428.4 248.63 L428.92 250.2 L429.47 251.73 L430.08 253.21 L430.79 254.6 L431.6 255.92 L432.47 257.19 L433.4 258.41 L434.38 259.59 L435.38 260.72 L436.4 261.81 L437.42 262.86 L438.44 263.87 L439.42 264.85 L440.37 265.82 L441.32 266.75 L442.29 267.63 L443.31 268.46 L444.4 269.22 L445.59 269.9 L446.9 270.49 L448.36 270.97 L449.95 271.34 L451.64 271.63 L453.4 271.85 L455.2 272.03 L457.02 272.18 L458.81 272.32 L460.55 272.47 L462.22 272.62 L463.83 272.74 L465.43 272.84 L467.03 272.91 L468.68 272.98 L470.4 273.03 L472.23 273.08 L474.2 273.14 L476.46 273.19 L479.04 273.24 L481.81 273.28 L484.61 273.31 L487.3 273.34 L489.75 273.36 L491.8 273.38 L493.31 273.4" stroke="#e88a1c" stroke-width="1.25" fill="none"/>
<line x1="392.3" y1="220.1" x2="392.3" y2="222.1" stroke="#e88a1c" stroke-width="0.7"/>
<line x1="390.8" y1="220.1" x2="393.8" y2="220.1" stroke="#e88a1c" stroke-width="0.7"/>
<line x1="390.8" y1="222.1" x2="393.8" y2="222.1" stroke="#e88a1c" stroke-width="0.7"/>
<path d="M392.3 223.06 L394.14 219.84 L390.46 219.84 Z" fill="#e88a1c"/>
<line x1="411.41" y1="219.37" x2="411.41" y2="221.37" stroke="#e88a1c" stroke-width="0.7"/>
<line x1="409.91" y1="219.37" x2="412.91" y2="219.37" stroke="#e88a1c" stroke-width="0.7"/>
<line x1="409.91" y1="221.37" x2="412.91" y2="221.37" stroke="#e88a1c" stroke-width="0.7"/>
<path d="M411.41 222.33 L413.25 219.11 L409.57 219.11 Z" fill="#e88a1c"/>
<line x1="419.6" y1="234.91" x2="419.6" y2="242.91" stroke="#e88a1c" stroke-width="0.7"/>
<line x1="418.1" y1="234.91" x2="421.1" y2="234.91" stroke="#e88a1c" stroke-width="0.7"/>
<line x1="418.1" y1="242.91" x2="421.1" y2="242.91" stroke="#e88a1c" stroke-width="0.7"/>
<path d="M419.6 240.87 L421.44 237.65 L417.76 237.65 Z" fill="#e88a1c"/>
<line x1="438.71" y1="259.51" x2="438.71" y2="264.51" stroke="#e88a1c" stroke-width="0.7"/>
<line x1="437.21" y1="259.51" x2="440.21" y2="259.51" stroke="#e88a1c" stroke-width="0.7"/>
<line x1="437.21" y1="264.51" x2="440.21" y2="264.51" stroke="#e88a1c" stroke-width="0.7"/>
<path d="M438.71 263.97 L440.55 260.75 L436.87 260.75 Z" fill="#e88a1c"/>
<path d="M446.9 272.44 L448.74 269.22 L445.06 269.22 Z" fill="#e88a1c"/>
<path d="M457.82 274.76 L459.66 271.54 L455.98 271.54 Z" fill="#e88a1c"/>
<path d="M466.01 276.15 L467.85 272.93 L464.17 272.93 Z" fill="#e88a1c"/>
<path d="M474.2 276.15 L476.04 272.93 L472.36 272.93 Z" fill="#e88a1c"/>
<path d="M485.12 274.76 L486.96 271.54 L483.28 271.54 Z" fill="#e88a1c"/>
<line x1="493.31" y1="268.72" x2="493.31" y2="273.72" stroke="#e88a1c" stroke-width="0.7"/>
<line x1="491.81" y1="268.72" x2="494.81" y2="268.72" stroke="#e88a1c" stroke-width="0.7"/>
<line x1="491.81" y1="273.72" x2="494.81" y2="273.72" stroke="#e88a1c" stroke-width="0.7"/>
<path d="M493.31 273.17 L495.15 269.95 L491.47 269.95 Z" fill="#e88a1c"/>
<line x1="397.4" y1="190.3" x2="406.7" y2="190.3" stroke="#555555" stroke-width="1.3"/>
<circle cx="402" cy="190.3" r="1.82" fill="#555555"/>
<text x="410" y="192.3" font-size="5.6" text-anchor="start" fill="#222" font-weight="normal" stroke="#222" stroke-width="0.12" textLength="32.52" lengthAdjust="spacingAndGlyphs">Thy (14.8 µM)</text>
<line x1="397.4" y1="199.4" x2="406.7" y2="199.4" stroke="#bcbcbc" stroke-width="1.3"/>
<circle cx="402" cy="199.4" r="1.82" fill="#bcbcbc"/>
<text x="410" y="201.4" font-size="5.6" text-anchor="start" fill="#222" font-weight="normal" stroke="#222" stroke-width="0.12" textLength="36.76" lengthAdjust="spacingAndGlyphs">HSPC (195 nM)</text>
<line x1="397.4" y1="208.5" x2="406.7" y2="208.5" stroke="#3a993a" stroke-width="1.3"/>
<rect x="400.18" y="206.68" width="3.64" height="3.64" fill="#3a993a" stroke="none" stroke-width="0"/>
<text x="410" y="210.5" font-size="5.6" text-anchor="start" fill="#222" font-weight="normal" stroke="#222" stroke-width="0.12" textLength="23.69" lengthAdjust="spacingAndGlyphs">J (&gt; 5 µM)</text>
<line x1="455.5" y1="190.3" x2="464.8" y2="190.3" stroke="#8b1e9b" stroke-width="1.3"/>
<path d="M460.1 188.09 L462.18 191.73 L458.02 191.73 Z" fill="#8b1e9b"/>
<text x="468.1" y="192.3" font-size="5.6" text-anchor="start" fill="#222" font-weight="normal" stroke="#222" stroke-width="0.12" textLength="25.37" lengthAdjust="spacingAndGlyphs">S1 (11 nM)</text>
<line x1="455.5" y1="199.4" x2="464.8" y2="199.4" stroke="#e88a1c" stroke-width="1.3"/>
<path d="M460.1 201.61 L462.18 197.97 L458.02 197.97 Z" fill="#e88a1c"/>
<text x="468.1" y="201.4" font-size="5.6" text-anchor="start" fill="#222" font-weight="normal" stroke="#222" stroke-width="0.12" textLength="31.41" lengthAdjust="spacingAndGlyphs">J+S1 (27 nM)</text>
<text x="8.7" y="338.6" font-size="12.2" text-anchor="start" fill="#000" font-weight="bold">F</text>
<path d="M19.4 396.8 L19.4 396.78 L20.06 396.78 L20.72 396.78 L21.39 396.78 L22.05 396.77 L22.71 396.77 L23.38 396.77 L24.04 396.76 L24.7 396.76 L25.36 396.76 L26.02 396.75 L26.69 396.75 L27.35 396.74 L28.01 396.74 L28.68 396.73 L29.34 396.72 L30 396.71 L30.66 396.7 L31.32 396.69 L31.99 396.67 L32.65 396.66 L33.31 396.64 L33.98 396.62 L34.64 396.59 L35.3 396.56 L35.96 396.53 L36.62 396.48 L37.29 396.43 L37.95 396.37 L38.61 396.3 L39.28 396.22 L39.94 396.11 L40.6 395.98 L41.26 395.83 L41.92 395.64 L42.59 395.41 L43.25 395.12 L43.91 394.75 L44.58 394.3 L45.24 393.73 L45.9 393.02 L46.56 392.12 L47.23 390.98 L47.89 389.56 L48.55 387.77 L49.21 385.56 L49.88 382.86 L50.54 379.65 L51.2 375.93 L51.86 371.83 L52.53 367.58 L53.19 363.55 L53.85 360.21 L54.51 358.05 L55.18 357.41 L55.84 358.46 L56.5 361.04 L57.16 364.72 L57.83 368.97 L58.49 373.31 L59.15 377.39 L59.81 381.01 L60.48 384.08 L61.14 386.62 L61.8 388.68 L62.46 390.32 L63.13 391.62 L63.79 392.64 L64.45 393.45 L65.11 394.09 L65.78 394.6 L66.44 395 L67.1 395.32 L67.76 395.58 L68.43 395.78 L69.09 395.95 L69.75 396.09 L70.41 396.2 L71.08 396.29 L71.74 396.36 L72.4 396.43 L72.4 396.8 Z" fill="#8d8d8d" fill-opacity="1" stroke="#5a5a5a" stroke-width="0.6" stroke-linejoin="round"/>
<path d="M19.4 418 L19.4 417.95 L20.06 417.95 L20.72 417.94 L21.39 417.93 L22.05 417.93 L22.71 417.92 L23.38 417.91 L24.04 417.9 L24.7 417.89 L25.36 417.88 L26.02 417.86 L26.69 417.85 L27.35 417.83 L28.01 417.81 L28.68 417.78 L29.34 417.75 L30 417.72 L30.66 417.68 L31.32 417.64 L31.99 417.58 L32.65 417.52 L33.31 417.45 L33.98 417.37 L34.64 417.27 L35.3 417.16 L35.96 417.02 L36.62 416.86 L37.29 416.67 L37.95 416.44 L38.61 416.17 L39.28 415.84 L39.94 415.45 L40.6 414.98 L41.26 414.41 L41.92 413.73 L42.59 412.91 L43.25 411.93 L43.91 410.76 L44.58 409.37 L45.24 407.73 L45.9 405.82 L46.56 403.61 L47.23 401.1 L47.89 398.32 L48.55 395.3 L49.21 392.14 L49.88 388.97 L50.54 385.96 L51.2 383.31 L51.86 381.22 L52.53 379.87 L53.19 379.4 L53.85 380.01 L54.51 381.79 L55.18 384.52 L55.84 387.9 L56.5 391.59 L57.16 395.31 L57.83 398.83 L58.49 402.02 L59.15 404.81 L59.81 407.19 L60.48 409.18 L61.14 410.82 L61.8 412.16 L62.46 413.25 L63.13 414.13 L63.79 414.84 L64.45 415.41 L65.11 415.87 L65.78 416.25 L66.44 416.55 L67.1 416.79 L67.76 416.99 L68.43 417.15 L69.09 417.29 L69.75 417.4 L70.41 417.49 L71.08 417.56 L71.74 417.63 L72.4 417.68 L72.4 418 Z" fill="#a5682c" fill-opacity="0.62" stroke="#a06a30" stroke-width="0.6" stroke-linejoin="round"/>
<path d="M19.4 438.2 L19.4 438.12 L20.06 438.11 L20.72 438.1 L21.39 438.08 L22.05 438.07 L22.71 438.06 L23.38 438.04 L24.04 438.02 L24.7 438 L25.36 437.97 L26.02 437.94 L26.69 437.91 L27.35 437.87 L28.01 437.83 L28.68 437.77 L29.34 437.71 L30 437.64 L30.66 437.56 L31.32 437.46 L31.99 437.35 L32.65 437.22 L33.31 437.06 L33.98 436.87 L34.64 436.65 L35.3 436.38 L35.96 436.06 L36.62 435.68 L37.29 435.23 L37.95 434.68 L38.61 434.03 L39.28 433.25 L39.94 432.32 L40.6 431.21 L41.26 429.89 L41.92 428.34 L42.59 426.52 L43.25 424.41 L43.91 422.01 L44.58 419.32 L45.24 416.38 L45.9 413.25 L46.56 410.03 L47.23 406.88 L47.89 403.98 L48.55 401.52 L49.21 399.71 L49.88 398.69 L50.54 398.56 L51.2 399.4 L51.86 401.11 L52.53 403.56 L53.19 406.52 L53.85 409.77 L54.51 413.11 L55.18 416.36 L55.84 419.42 L56.5 422.19 L57.16 424.65 L57.83 426.8 L58.49 428.64 L59.15 430.2 L59.81 431.52 L60.48 432.61 L61.14 433.53 L61.8 434.29 L62.46 434.92 L63.13 435.44 L63.79 435.88 L64.45 436.24 L65.11 436.53 L65.78 436.78 L66.44 436.99 L67.1 437.17 L67.76 437.31 L68.43 437.44 L69.09 437.54 L69.75 437.63 L70.41 437.7 L71.08 437.77 L71.74 437.82 L72.4 437.87 L72.4 438.2 Z" fill="#efc48c" fill-opacity="0.5" stroke="#e8a860" stroke-width="0.6" stroke-linejoin="round"/>
<line x1="55.1" y1="357.4" x2="55.1" y2="438.5" stroke="#777" stroke-width="0.45"/>
<line x1="19" y1="438.8" x2="74" y2="438.8" stroke="#000" stroke-width="1.3"/>
<path d="M77 438.8 L73 436.8 L73 440.8 Z" fill="#000"/>
<line x1="20.8" y1="438.8" x2="20.8" y2="441" stroke="#000" stroke-width="0.9"/>
<text x="20.8" y="449.9" font-size="6.4" text-anchor="middle" fill="#222" font-weight="normal" stroke="#222" stroke-width="0.12">0</text>
<line x1="36" y1="438.8" x2="36" y2="441" stroke="#000" stroke-width="0.9"/>
<text x="34.8" y="449.9" font-size="6.4" text-anchor="middle" fill="#222" font-weight="normal" stroke="#222" stroke-width="0.12" textLength="6.2" lengthAdjust="spacingAndGlyphs">10</text>
<text x="38.4" y="446.6" font-size="4.3" text-anchor="start" fill="#222" font-weight="normal" stroke="#222" stroke-width="0.12">3</text>
<line x1="66.3" y1="438.8" x2="66.3" y2="441" stroke="#000" stroke-width="0.9"/>
<text x="65.1" y="449.9" font-size="6.4" text-anchor="middle" fill="#222" font-weight="normal" stroke="#222" stroke-width="0.12" textLength="6.2" lengthAdjust="spacingAndGlyphs">10</text>
<text x="68.7" y="446.6" font-size="4.3" text-anchor="start" fill="#222" font-weight="normal" stroke="#222" stroke-width="0.12">4</text>
<text x="48.4" y="459.5" font-size="8.5" text-anchor="middle" fill="#222" font-weight="normal" stroke="#222" stroke-width="0.24" textLength="29.8" lengthAdjust="spacingAndGlyphs">HSP90-PE</text>
<text x="8.7" y="383.9" font-size="6.8" text-anchor="start" fill="#222" font-weight="normal" stroke="#222" stroke-width="0.12" textLength="19" lengthAdjust="spacingAndGlyphs">DMSO</text>
<text x="9.4" y="405.2" font-size="6.8" text-anchor="start" fill="#222" font-weight="normal" stroke="#222" stroke-width="0.12" textLength="26.3" lengthAdjust="spacingAndGlyphs">1 µM RIC</text>
<text x="9.4" y="430.2" font-size="6.8" text-anchor="start" fill="#222" font-weight="normal" stroke="#222" stroke-width="0.12" textLength="26.3" lengthAdjust="spacingAndGlyphs">5 µM RIC</text>
<line x1="112.3" y1="369.9" x2="112.3" y2="439.3" stroke="#000" stroke-width="1.2"/>
<line x1="111.7" y1="438.7" x2="171.3" y2="438.7" stroke="#000" stroke-width="1.2"/>
<line x1="109.8" y1="438.7" x2="112.3" y2="438.7" stroke="#000" stroke-width="1"/>
<text x="107.8" y="440.9" font-size="6.3" text-anchor="end" fill="#222" font-weight="normal" stroke="#222" stroke-width="0.12">0</text>
<line x1="109.8" y1="425.54" x2="112.3" y2="425.54" stroke="#000" stroke-width="1"/>
<text x="107.8" y="427.74" font-size="6.3" text-anchor="end" fill="#222" font-weight="normal" stroke="#222" stroke-width="0.12">1</text>
<line x1="109.8" y1="412.38" x2="112.3" y2="412.38" stroke="#000" stroke-width="1"/>
<text x="107.8" y="414.58" font-size="6.3" text-anchor="end" fill="#222" font-weight="normal" stroke="#222" stroke-width="0.12">2</text>
<line x1="109.8" y1="399.22" x2="112.3" y2="399.22" stroke="#000" stroke-width="1"/>
<text x="107.8" y="401.42" font-size="6.3" text-anchor="end" fill="#222" font-weight="normal" stroke="#222" stroke-width="0.12">3</text>
<line x1="109.8" y1="386.06" x2="112.3" y2="386.06" stroke="#000" stroke-width="1"/>
<text x="107.8" y="388.26" font-size="6.3" text-anchor="end" fill="#222" font-weight="normal" stroke="#222" stroke-width="0.12">4</text>
<line x1="109.8" y1="372.9" x2="112.3" y2="372.9" stroke="#000" stroke-width="1"/>
<text x="107.8" y="375.1" font-size="6.3" text-anchor="end" fill="#222" font-weight="normal" stroke="#222" stroke-width="0.12">5</text>
<rect x="117.8" y="384.74" width="12.7" height="53.96" fill="#000" stroke="none" stroke-width="0"/>
<line x1="124.15" y1="383.43" x2="124.15" y2="385.67" stroke="#000" stroke-width="1"/>
<line x1="121.65" y1="383.43" x2="126.65" y2="383.43" stroke="#000" stroke-width="1"/>
<line x1="121.65" y1="385.67" x2="126.65" y2="385.67" stroke="#000" stroke-width="1"/>
<line x1="124.15" y1="438.7" x2="124.15" y2="440.9" stroke="#000" stroke-width="1"/>
<rect x="135.6" y="389.35" width="12.8" height="49.35" fill="#8b4a14" stroke="none" stroke-width="0"/>
<line x1="142" y1="384.74" x2="142" y2="392.64" stroke="#000" stroke-width="1"/>
<line x1="139.5" y1="384.74" x2="144.5" y2="384.74" stroke="#000" stroke-width="1"/>
<line x1="139.5" y1="392.64" x2="144.5" y2="392.64" stroke="#000" stroke-width="1"/>
<line x1="142" y1="438.7" x2="142" y2="440.9" stroke="#000" stroke-width="1"/>
<rect x="153.2" y="399.48" width="12.8" height="39.22" fill="#e08a28" stroke="none" stroke-width="0"/>
<line x1="159.6" y1="398.3" x2="159.6" y2="400.27" stroke="#000" stroke-width="1"/>
<line x1="157.1" y1="398.3" x2="162.1" y2="398.3" stroke="#000" stroke-width="1"/>
<line x1="157.1" y1="400.27" x2="162.1" y2="400.27" stroke="#000" stroke-width="1"/>
<line x1="159.6" y1="438.7" x2="159.6" y2="440.9" stroke="#000" stroke-width="1"/>
<path d="M123.7 375.6 L123.7 365.4 L160.1 365.4 L160.1 396" stroke="#8c8c8c" stroke-width="0.6" fill="none"/>
<text x="141.5" y="362.9" font-size="5.7" text-anchor="middle" fill="#222" font-weight="normal" stroke="#222" stroke-width="0.12">p = 0.003</text>
<text x="121.3" y="450.5" font-size="6.2" text-anchor="middle" fill="#222" font-weight="normal" stroke="#222" stroke-width="0.12" textLength="19.2" lengthAdjust="spacingAndGlyphs">DMSO</text>
<text x="142.75" y="450.5" font-size="6.2" text-anchor="middle" fill="#222" font-weight="normal" stroke="#222" stroke-width="0.12">1</text>
<text x="159.75" y="450.5" font-size="6.2" text-anchor="middle" fill="#222" font-weight="normal" stroke="#222" stroke-width="0.12">5</text>
<line x1="136.3" y1="454.6" x2="168.1" y2="454.6" stroke="#000" stroke-width="0.8"/>
<text x="153.2" y="463.1" font-size="5.9" text-anchor="middle" fill="#222" font-weight="normal" stroke="#222" stroke-width="0.12" textLength="28.8" lengthAdjust="spacingAndGlyphs">[RIC] (µM)</text>
<text x="97.4" y="404.8" font-size="8.2" text-anchor="middle" fill="#222" font-weight="normal" stroke="#222" stroke-width="0.24" transform="rotate(-90 97.4 404.8)" textLength="64" lengthAdjust="spacingAndGlyphs">HSP90-PE MFI (x10<tspan baseline-shift="super" font-size="4.5">3</tspan>)</text>
<text x="186.6" y="338.6" font-size="12.2" text-anchor="start" fill="#000" font-weight="bold">G</text>
<path d="M189 388 L189 387.97 L189.78 387.97 L190.57 387.96 L191.35 387.96 L192.13 387.96 L192.92 387.95 L193.7 387.95 L194.49 387.95 L195.27 387.94 L196.05 387.93 L196.84 387.93 L197.62 387.92 L198.41 387.91 L199.19 387.9 L199.97 387.89 L200.76 387.88 L201.54 387.87 L202.32 387.85 L203.11 387.83 L203.89 387.81 L204.68 387.79 L205.46 387.76 L206.24 387.73 L207.03 387.69 L207.81 387.65 L208.59 387.6 L209.38 387.55 L210.16 387.48 L210.94 387.4 L211.73 387.31 L212.51 387.2 L213.3 387.07 L214.08 386.91 L214.86 386.72 L215.65 386.5 L216.43 386.23 L217.22 385.93 L218 385.65 L218.78 385.33 L219.57 384.96 L220.35 384.52 L221.13 384.01 L221.92 383.41 L222.7 382.7 L223.48 381.87 L224.27 380.9 L225.05 379.77 L225.84 378.46 L226.62 376.96 L227.4 375.26 L228.19 373.37 L228.97 371.29 L229.75 369.09 L230.54 366.82 L231.32 364.58 L232.11 362.48 L232.89 360.67 L233.67 359.27 L234.46 358.38 L235.24 358.14 L236.02 358.79 L236.81 360.18 L237.59 362.15 L238.38 364.52 L239.16 367.1 L239.94 369.71 L240.73 372.22 L241.51 374.54 L242.29 376.61 L243.08 378.42 L243.86 379.98 L244.65 381.3 L245.43 382.41 L246.21 383.34 L247 384.11 L247.78 384.75 L248.56 385.27 L249.35 385.71 L250.13 386.07 L250.92 386.36 L251.7 386.61 L251.7 388 Z" fill="#8e8e8e" fill-opacity="1" stroke="#5a5a5a" stroke-width="0.6" stroke-linejoin="round"/>
<path d="M189 405.1 L189 405.07 L189.78 405.06 L190.57 405.06 L191.35 405.05 L192.13 405.05 L192.92 405.04 L193.7 405.04 L194.49 405.03 L195.27 405.02 L196.05 405.02 L196.84 405.01 L197.62 405 L198.41 404.98 L199.19 404.97 L199.97 404.95 L200.76 404.93 L201.54 404.91 L202.32 404.89 L203.11 404.86 L203.89 404.83 L204.68 404.79 L205.46 404.74 L206.24 404.68 L207.03 404.62 L207.81 404.54 L208.59 404.45 L209.38 404.34 L210.16 404.21 L210.94 404.06 L211.73 403.87 L212.51 403.64 L213.3 403.36 L214.08 403.02 L214.86 402.72 L215.65 402.42 L216.43 402.09 L217.22 401.69 L218 401.23 L218.78 400.69 L219.57 400.05 L220.35 399.3 L221.13 398.43 L221.92 397.41 L222.7 396.22 L223.48 394.85 L224.27 393.29 L225.05 391.55 L225.84 389.63 L226.62 387.57 L227.4 385.44 L228.19 383.33 L228.97 381.35 L229.75 379.63 L230.54 378.29 L231.32 377.45 L232.11 377.25 L232.89 377.88 L233.67 379.15 L234.46 380.92 L235.24 383.06 L236.02 385.38 L236.81 387.74 L237.59 390.02 L238.38 392.15 L239.16 394.07 L239.94 395.76 L240.73 397.23 L241.51 398.48 L242.29 399.55 L243.08 400.44 L243.86 401.19 L244.65 401.81 L245.43 402.33 L246.21 402.76 L247 403.12 L247.78 403.42 L248.56 403.67 L249.35 403.88 L250.13 404.05 L250.92 404.2 L251.7 404.32 L251.7 405.1 Z" fill="#5e2a5e" fill-opacity="0.68" stroke="#4a204a" stroke-width="0.6" stroke-linejoin="round"/>
<path d="M189 422 L189 421.79 L189.78 421.77 L190.57 421.75 L191.35 421.73 L192.13 421.7 L192.92 421.67 L193.7 421.64 L194.49 421.6 L195.27 421.56 L196.05 421.51 L196.84 421.46 L197.62 421.4 L198.41 421.33 L199.19 421.25 L199.97 421.16 L200.76 421.06 L201.54 420.95 L202.32 420.82 L203.11 420.67 L203.89 420.49 L204.68 420.29 L205.46 420.06 L206.24 419.79 L207.03 419.58 L207.81 419.37 L208.59 419.14 L209.38 418.89 L210.16 418.61 L210.94 418.29 L211.73 417.94 L212.51 417.55 L213.3 417.12 L214.08 416.63 L214.86 416.09 L215.65 415.48 L216.43 414.81 L217.22 414.05 L218 413.22 L218.78 412.29 L219.57 411.26 L220.35 410.14 L221.13 408.91 L221.92 407.59 L222.7 406.17 L223.48 404.67 L224.27 403.11 L225.05 401.51 L225.84 399.92 L226.62 398.36 L227.4 396.9 L228.19 395.58 L228.97 394.44 L229.75 393.52 L230.54 392.86 L231.32 392.66 L232.11 393.33 L232.89 394.65 L233.67 396.49 L234.46 398.7 L235.24 401.1 L236.02 403.54 L236.81 405.9 L237.59 408.1 L238.38 410.09 L239.16 411.85 L239.94 413.38 L240.73 414.69 L241.51 415.81 L242.29 416.76 L243.08 417.56 L243.86 418.23 L244.65 418.79 L245.43 419.26 L246.21 419.66 L247 419.99 L247.78 420.27 L248.56 420.51 L249.35 420.71 L250.13 420.88 L250.92 421.02 L251.7 421.15 L251.7 422 Z" fill="#833783" fill-opacity="0.7" stroke="#6a3a6a" stroke-width="0.6" stroke-linejoin="round"/>
<path d="M189 438.2 L189 438.1 L189.72 438.09 L190.45 438.08 L191.18 438.07 L191.9 438.06 L192.62 438.05 L193.35 438.03 L194.07 438.02 L194.8 438 L195.53 437.98 L196.25 437.95 L196.97 437.93 L197.7 437.9 L198.43 437.87 L199.15 437.83 L199.88 437.79 L200.6 437.74 L201.32 437.68 L202.05 437.62 L202.78 437.54 L203.5 437.46 L204.22 437.36 L204.95 437.25 L205.68 437.12 L206.4 436.96 L207.12 436.79 L207.85 436.58 L208.57 436.34 L209.3 436.05 L210.03 435.84 L210.75 435.62 L211.47 435.38 L212.2 435.11 L212.93 434.81 L213.65 434.46 L214.38 434.07 L215.1 433.63 L215.82 433.14 L216.55 432.57 L217.28 431.93 L218 431.21 L218.72 430.39 L219.45 429.47 L220.18 428.43 L220.9 427.28 L221.62 426.02 L222.35 424.63 L223.07 423.15 L223.8 421.58 L224.53 419.96 L225.25 418.34 L225.97 416.76 L226.7 415.3 L227.43 414.01 L228.15 412.97 L228.88 412.22 L229.6 411.8 L230.32 412.16 L231.05 413.19 L231.78 414.78 L232.5 416.76 L233.22 418.98 L233.95 421.26 L234.68 423.48 L235.4 425.55 L236.12 427.42 L236.85 429.08 L237.57 430.5 L238.3 431.72 L239.03 432.75 L239.75 433.62 L240.47 434.34 L241.2 434.94 L241.93 435.45 L242.65 435.86 L243.38 436.21 L244.1 436.5 L244.82 436.75 L245.55 436.95 L246.28 437.12 L247 437.27 L247 438.2 Z" fill="#ab52ab" fill-opacity="0.7" stroke="#9a4a9a" stroke-width="0.6" stroke-linejoin="round"/>
<line x1="235" y1="358" x2="235" y2="438.5" stroke="#666" stroke-width="0.45"/>
<line x1="193" y1="439.1" x2="193" y2="440.6" stroke="#000" stroke-width="0.6"/>
<line x1="195.6" y1="439.1" x2="195.6" y2="440.6" stroke="#000" stroke-width="0.6"/>
<line x1="198.2" y1="439.1" x2="198.2" y2="440.6" stroke="#000" stroke-width="0.6"/>
<line x1="200.8" y1="439.1" x2="200.8" y2="440.6" stroke="#000" stroke-width="0.6"/>
<line x1="203.4" y1="439.1" x2="203.4" y2="440.6" stroke="#000" stroke-width="0.6"/>
<line x1="206" y1="439.1" x2="206" y2="440.6" stroke="#000" stroke-width="0.6"/>
<line x1="215.91" y1="439.1" x2="215.91" y2="440.6" stroke="#000" stroke-width="0.6"/>
<line x1="221.48" y1="439.1" x2="221.48" y2="440.6" stroke="#000" stroke-width="0.6"/>
<line x1="225.43" y1="439.1" x2="225.43" y2="440.6" stroke="#000" stroke-width="0.6"/>
<line x1="228.49" y1="439.1" x2="228.49" y2="440.6" stroke="#000" stroke-width="0.6"/>
<line x1="230.99" y1="439.1" x2="230.99" y2="440.6" stroke="#000" stroke-width="0.6"/>
<line x1="233.11" y1="439.1" x2="233.11" y2="440.6" stroke="#000" stroke-width="0.6"/>
<line x1="234.94" y1="439.1" x2="234.94" y2="440.6" stroke="#000" stroke-width="0.6"/>
<line x1="236.55" y1="439.1" x2="236.55" y2="440.6" stroke="#000" stroke-width="0.6"/>
<line x1="189" y1="439.1" x2="249.6" y2="439.1" stroke="#000" stroke-width="1.3"/>
<path d="M252.6 439.1 L248.6 437.1 L248.6 441.1 Z" fill="#000"/>
<line x1="190.8" y1="439.1" x2="190.8" y2="441.3" stroke="#000" stroke-width="0.9"/>
<text x="190.8" y="450.2" font-size="6.4" text-anchor="middle" fill="#222" font-weight="normal" stroke="#222" stroke-width="0.12">0</text>
<line x1="206.4" y1="439.1" x2="206.4" y2="441.3" stroke="#000" stroke-width="0.9"/>
<text x="205.2" y="450.2" font-size="6.4" text-anchor="middle" fill="#222" font-weight="normal" stroke="#222" stroke-width="0.12" textLength="6.2" lengthAdjust="spacingAndGlyphs">10</text>
<text x="208.8" y="446.9" font-size="4.3" text-anchor="start" fill="#222" font-weight="normal" stroke="#222" stroke-width="0.12">3</text>
<line x1="238" y1="439.1" x2="238" y2="441.3" stroke="#000" stroke-width="0.9"/>
<text x="236.8" y="450.2" font-size="6.4" text-anchor="middle" fill="#222" font-weight="normal" stroke="#222" stroke-width="0.12" textLength="6.2" lengthAdjust="spacingAndGlyphs">10</text>
<text x="240.4" y="446.9" font-size="4.3" text-anchor="start" fill="#222" font-weight="normal" stroke="#222" stroke-width="0.12">4</text>
<text x="219.8" y="460.5" font-size="8.5" text-anchor="middle" fill="#222" font-weight="normal" stroke="#222" stroke-width="0.24" textLength="29.8" lengthAdjust="spacingAndGlyphs">HSP90-PE</text>
<text x="189.2" y="384.5" font-size="6.8" text-anchor="start" fill="#222" font-weight="normal" stroke="#222" stroke-width="0.12" textLength="18.6" lengthAdjust="spacingAndGlyphs">DMSO</text>
<text x="189.2" y="399.3" font-size="6.8" text-anchor="start" fill="#222" font-weight="normal" stroke="#222" stroke-width="0.12" textLength="26.3" lengthAdjust="spacingAndGlyphs">1 µM RIC</text>
<text x="189.2" y="414.2" font-size="6.8" text-anchor="start" fill="#222" font-weight="normal" stroke="#222" stroke-width="0.12" textLength="26.3" lengthAdjust="spacingAndGlyphs">2 µM RIC</text>
<text x="189.2" y="430.6" font-size="6.8" text-anchor="start" fill="#222" font-weight="normal" stroke="#222" stroke-width="0.12" textLength="26.3" lengthAdjust="spacingAndGlyphs">5 µM RIC</text>
<line x1="287.9" y1="362.9" x2="287.9" y2="439.3" stroke="#000" stroke-width="1.2"/>
<line x1="287.3" y1="438.7" x2="345.5" y2="438.7" stroke="#000" stroke-width="1.2"/>
<line x1="285.4" y1="438.7" x2="287.9" y2="438.7" stroke="#000" stroke-width="1"/>
<text x="283.4" y="440.9" font-size="6.3" text-anchor="end" fill="#222" font-weight="normal" stroke="#222" stroke-width="0.12">0</text>
<line x1="285.4" y1="420.5" x2="287.9" y2="420.5" stroke="#000" stroke-width="1"/>
<text x="283.4" y="422.7" font-size="6.3" text-anchor="end" fill="#222" font-weight="normal" stroke="#222" stroke-width="0.12">2</text>
<line x1="285.4" y1="402.3" x2="287.9" y2="402.3" stroke="#000" stroke-width="1"/>
<text x="283.4" y="404.5" font-size="6.3" text-anchor="end" fill="#222" font-weight="normal" stroke="#222" stroke-width="0.12">4</text>
<line x1="285.4" y1="384.1" x2="287.9" y2="384.1" stroke="#000" stroke-width="1"/>
<text x="283.4" y="386.3" font-size="6.3" text-anchor="end" fill="#222" font-weight="normal" stroke="#222" stroke-width="0.12">6</text>
<line x1="285.4" y1="365.9" x2="287.9" y2="365.9" stroke="#000" stroke-width="1"/>
<text x="283.4" y="368.1" font-size="6.3" text-anchor="end" fill="#222" font-weight="normal" stroke="#222" stroke-width="0.12">8</text>
<rect x="292" y="375.27" width="9.9" height="63.43" fill="#000" stroke="none" stroke-width="0"/>
<line x1="296.95" y1="370.45" x2="296.95" y2="378.64" stroke="#000" stroke-width="1"/>
<line x1="294.45" y1="370.45" x2="299.45" y2="370.45" stroke="#000" stroke-width="1"/>
<line x1="294.45" y1="378.64" x2="299.45" y2="378.64" stroke="#000" stroke-width="1"/>
<line x1="296.95" y1="438.7" x2="296.95" y2="440.9" stroke="#000" stroke-width="1"/>
<rect x="305.8" y="385.92" width="9.8" height="52.78" fill="#47204a" stroke="none" stroke-width="0"/>
<line x1="310.7" y1="381.37" x2="310.7" y2="390.47" stroke="#000" stroke-width="1"/>
<line x1="308.2" y1="381.37" x2="313.2" y2="381.37" stroke="#000" stroke-width="1"/>
<line x1="308.2" y1="390.47" x2="313.2" y2="390.47" stroke="#000" stroke-width="1"/>
<line x1="310.7" y1="438.7" x2="310.7" y2="440.9" stroke="#000" stroke-width="1"/>
<rect x="320" y="388.65" width="9.8" height="50.05" fill="#5e2a68" stroke="none" stroke-width="0"/>
<line x1="324.9" y1="383.19" x2="324.9" y2="393.2" stroke="#000" stroke-width="1"/>
<line x1="322.4" y1="383.19" x2="327.4" y2="383.19" stroke="#000" stroke-width="1"/>
<line x1="322.4" y1="393.2" x2="327.4" y2="393.2" stroke="#000" stroke-width="1"/>
<line x1="324.9" y1="438.7" x2="324.9" y2="440.9" stroke="#000" stroke-width="1"/>
<rect x="333.9" y="395.02" width="9.6" height="43.68" fill="#88388e" stroke="none" stroke-width="0"/>
<line x1="338.7" y1="389.56" x2="338.7" y2="399.57" stroke="#000" stroke-width="1"/>
<line x1="336.2" y1="389.56" x2="341.2" y2="389.56" stroke="#000" stroke-width="1"/>
<line x1="336.2" y1="399.57" x2="341.2" y2="399.57" stroke="#000" stroke-width="1"/>
<line x1="338.7" y1="438.7" x2="338.7" y2="440.9" stroke="#000" stroke-width="1"/>
<path d="M294 368.1 L294 345 L338.75 345 L338.75 385.6" stroke="#8c8c8c" stroke-width="0.6" fill="none"/>
<text x="316.6" y="342.25" font-size="5.7" text-anchor="middle" fill="#222" font-weight="normal" stroke="#222" stroke-width="0.12">p=0.0002</text>
<path d="M296.25 368 L296.25 353.5 L324.75 353.5 L324.75 380.6" stroke="#8c8c8c" stroke-width="0.6" fill="none"/>
<text x="311.1" y="351.9" font-size="5.7" text-anchor="middle" fill="#222" font-weight="normal" stroke="#222" stroke-width="0.12">p=0.002</text>
<path d="M298.1 368 L298.1 362.75 L311.25 362.75 L311.25 378.1" stroke="#8c8c8c" stroke-width="0.6" fill="none"/>
<text x="308.6" y="361" font-size="5.7" text-anchor="middle" fill="#222" font-weight="normal" stroke="#222" stroke-width="0.12">p=0.005</text>
<text x="294" y="450.5" font-size="6.2" text-anchor="middle" fill="#222" font-weight="normal" stroke="#222" stroke-width="0.12" textLength="19.2" lengthAdjust="spacingAndGlyphs">DMSO</text>
<text x="311.6" y="450.5" font-size="6.2" text-anchor="middle" fill="#222" font-weight="normal" stroke="#222" stroke-width="0.12">1</text>
<text x="325.5" y="450.5" font-size="6.2" text-anchor="middle" fill="#222" font-weight="normal" stroke="#222" stroke-width="0.12">2</text>
<text x="338.1" y="450.5" font-size="6.2" text-anchor="middle" fill="#222" font-weight="normal" stroke="#222" stroke-width="0.12">5</text>
<line x1="308" y1="454.7" x2="342.4" y2="454.7" stroke="#000" stroke-width="0.8"/>
<text x="326.2" y="463.2" font-size="5.9" text-anchor="middle" fill="#222" font-weight="normal" stroke="#222" stroke-width="0.12" textLength="28.8" lengthAdjust="spacingAndGlyphs">[RIC] (µM)</text>
<text x="273.3" y="403" font-size="8.2" text-anchor="middle" fill="#222" font-weight="normal" stroke="#222" stroke-width="0.24" transform="rotate(-90 273.3 403)" textLength="64" lengthAdjust="spacingAndGlyphs">HSP90-PE MFI (x10<tspan baseline-shift="super" font-size="4.5">3</tspan>)</text>
<text x="363.8" y="338.6" font-size="12.2" text-anchor="start" fill="#000" font-weight="bold">H</text>
<path d="M390.3 388.5 L390.3 388.25 L390.58 388.2 L390.85 388.14 L391.13 388.06 L391.41 387.97 L391.68 387.86 L391.96 387.72 L392.23 387.55 L392.51 387.35 L392.79 387.09 L393.06 386.77 L393.34 386.38 L393.62 385.89 L393.89 385.3 L394.17 384.57 L394.44 383.68 L394.72 382.61 L395 381.32 L395.27 379.79 L395.55 378.01 L395.82 375.97 L396.1 373.67 L396.38 371.17 L396.65 368.53 L396.93 365.85 L397.21 363.27 L397.48 360.95 L397.76 359.06 L398.04 357.75 L398.31 357.14 L398.59 357.31 L398.86 358.15 L399.14 359.57 L399.42 361.45 L399.69 363.68 L399.97 366.11 L400.25 368.61 L400.52 371.07 L400.8 373.4 L401.07 375.54 L401.35 377.47 L401.63 379.17 L401.9 380.64 L402.18 381.89 L402.45 382.96 L402.73 383.85 L403.01 384.59 L403.28 385.21 L403.56 385.73 L403.84 386.15 L404.11 386.5 L404.39 386.79 L404.66 387.03 L404.94 387.23 L405.22 387.4 L405.49 387.54 L405.77 387.66 L406.05 387.76 L406.32 387.84 L406.6 387.91 L406.88 387.97 L407.15 388.03 L407.43 388.07 L407.7 388.11 L407.98 388.15 L408.26 388.18 L408.53 388.2 L408.81 388.23 L409.08 388.25 L409.36 388.27 L409.64 388.28 L409.91 388.3 L410.19 388.31 L410.47 388.33 L410.74 388.34 L411.02 388.35 L411.29 388.36 L411.57 388.37 L411.85 388.38 L412.12 388.38 L412.4 388.39 L412.4 388.5 Z" fill="#8a8a8a" fill-opacity="0.9" stroke="#666" stroke-width="0.6" stroke-linejoin="round"/>
<path d="M390.3 405.6 L390.3 405.28 L390.58 405.22 L390.85 405.16 L391.13 405.09 L391.41 405 L391.68 404.89 L391.96 404.76 L392.23 404.61 L392.51 404.42 L392.79 404.19 L393.06 403.92 L393.34 403.59 L393.62 403.2 L393.89 402.72 L394.17 402.14 L394.44 401.44 L394.72 400.6 L395 399.6 L395.27 398.41 L395.55 397.01 L395.82 395.38 L396.1 393.51 L396.38 391.41 L396.65 389.08 L396.93 386.58 L397.21 383.99 L397.48 381.4 L397.76 378.95 L398.04 376.8 L398.31 375.09 L398.59 373.96 L398.86 373.51 L399.14 373.77 L399.42 374.35 L399.69 375.21 L399.97 376.32 L400.25 377.64 L400.52 379.13 L400.8 380.73 L401.07 382.42 L401.35 384.14 L401.63 385.85 L401.9 387.52 L402.18 389.13 L402.45 390.66 L402.73 392.09 L403.01 393.42 L403.28 394.64 L403.56 395.76 L403.84 396.77 L404.11 397.68 L404.39 398.5 L404.66 399.23 L404.94 399.88 L405.22 400.46 L405.49 400.98 L405.77 401.44 L406.05 401.84 L406.32 402.21 L406.6 402.53 L406.88 402.81 L407.15 403.06 L407.43 403.29 L407.7 403.49 L407.98 403.67 L408.26 403.83 L408.53 403.98 L408.81 404.11 L409.08 404.22 L409.36 404.33 L409.64 404.42 L409.91 404.51 L410.19 404.59 L410.47 404.66 L410.74 404.72 L411.02 404.78 L411.29 404.83 L411.57 404.88 L411.85 404.93 L412.12 404.97 L412.4 405.01 L412.4 405.6 Z" fill="#3f6a42" fill-opacity="0.75" stroke="#34573a" stroke-width="0.6" stroke-linejoin="round"/>
<path d="M390.3 422.4 L390.3 419.9 L390.58 419.63 L390.85 419.31 L391.13 418.96 L391.41 418.57 L391.68 418.14 L391.96 417.65 L392.23 417.11 L392.51 416.51 L392.79 415.85 L393.06 415.11 L393.34 414.29 L393.62 413.4 L393.89 412.42 L394.17 411.35 L394.44 410.19 L394.72 408.94 L395 407.61 L395.27 406.19 L395.55 404.71 L395.82 403.16 L396.1 401.58 L396.38 399.97 L396.65 398.38 L396.93 396.82 L397.21 395.33 L397.48 393.94 L397.76 392.7 L398.04 391.64 L398.31 390.78 L398.59 390.16 L398.86 389.8 L399.14 389.73 L399.42 390.03 L399.69 390.44 L399.97 390.96 L400.25 391.59 L400.52 392.3 L400.8 393.11 L401.07 394 L401.35 394.95 L401.63 395.96 L401.9 397.01 L402.18 398.1 L402.45 399.2 L402.73 400.32 L403.01 401.44 L403.28 402.55 L403.56 403.64 L403.84 404.71 L404.11 405.75 L404.39 406.76 L404.66 407.73 L404.94 408.66 L405.22 409.55 L405.49 410.39 L405.77 411.19 L406.05 411.95 L406.32 412.66 L406.6 413.33 L406.88 413.96 L407.15 414.54 L407.43 415.09 L407.7 415.6 L407.98 416.08 L408.26 416.52 L408.53 416.93 L408.81 417.32 L409.08 417.67 L409.36 418 L409.64 418.31 L409.91 418.59 L410.19 418.85 L410.47 419.1 L410.74 419.32 L411.02 419.53 L411.29 419.72 L411.57 419.9 L411.85 420.07 L412.12 420.22 L412.4 420.37 L412.4 422.4 Z" fill="#4a9e52" fill-opacity="0.72" stroke="#3a8a44" stroke-width="0.6" stroke-linejoin="round"/>
<path d="M390.3 438.2 L390.3 437.64 L390.58 437.54 L390.85 437.41 L391.13 437.26 L391.41 437.07 L391.68 436.85 L391.96 436.58 L392.23 436.24 L392.51 435.84 L392.79 435.34 L393.06 434.74 L393.34 434.01 L393.62 433.12 L393.89 432.05 L394.17 430.78 L394.44 429.27 L394.72 427.5 L395 425.47 L395.27 423.19 L395.55 420.67 L395.82 417.99 L396.1 415.25 L396.38 412.58 L396.65 410.14 L396.93 408.13 L397.21 406.69 L397.48 405.97 L397.76 406.24 L398.04 406.99 L398.31 407.95 L398.59 409.1 L398.86 410.41 L399.14 411.84 L399.42 413.35 L399.69 414.92 L399.97 416.5 L400.25 418.07 L400.52 419.59 L400.8 421.06 L401.07 422.45 L401.35 423.75 L401.63 424.96 L401.9 426.07 L402.18 427.09 L402.45 428.02 L402.73 428.87 L403.01 429.64 L403.28 430.33 L403.56 430.96 L403.84 431.53 L404.11 432.04 L404.39 432.5 L404.66 432.92 L404.94 433.29 L405.22 433.64 L405.49 433.95 L405.77 434.23 L406.05 434.49 L406.32 434.72 L406.6 434.94 L406.88 435.14 L407.15 435.32 L407.43 435.49 L407.7 435.65 L407.98 435.79 L408.26 435.93 L408.53 436.05 L408.81 436.17 L409.08 436.28 L409.36 436.38 L409.64 436.47 L409.91 436.56 L410.19 436.65 L410.47 436.73 L410.74 436.8 L411.02 436.87 L411.29 436.94 L411.57 437 L411.85 437.06 L412.12 437.11 L412.4 437.17 L412.4 438.2 Z" fill="#5cb865" fill-opacity="0.72" stroke="#4aa054" stroke-width="0.6" stroke-linejoin="round"/>
<line x1="398.4" y1="357.1" x2="398.4" y2="439" stroke="#333" stroke-width="0.5"/>
<line x1="393.5" y1="439.1" x2="393.5" y2="440.6" stroke="#000" stroke-width="0.6"/>
<line x1="395.9" y1="439.1" x2="395.9" y2="440.6" stroke="#000" stroke-width="0.6"/>
<line x1="398.3" y1="439.1" x2="398.3" y2="440.6" stroke="#000" stroke-width="0.6"/>
<line x1="400.7" y1="439.1" x2="400.7" y2="440.6" stroke="#000" stroke-width="0.6"/>
<line x1="403.1" y1="439.1" x2="403.1" y2="440.6" stroke="#000" stroke-width="0.6"/>
<line x1="405.5" y1="439.1" x2="405.5" y2="440.6" stroke="#000" stroke-width="0.6"/>
<line x1="407.9" y1="439.1" x2="407.9" y2="440.6" stroke="#000" stroke-width="0.6"/>
<line x1="410.3" y1="439.1" x2="410.3" y2="440.6" stroke="#000" stroke-width="0.6"/>
<line x1="390" y1="439.1" x2="415.1" y2="439.1" stroke="#000" stroke-width="1.3"/>
<path d="M418.1 439.1 L414.1 437.1 L414.1 441.1 Z" fill="#000"/>
<line x1="391.2" y1="439.1" x2="391.2" y2="441.3" stroke="#000" stroke-width="0.9"/>
<text x="391.2" y="450.2" font-size="6.4" text-anchor="middle" fill="#222" font-weight="normal" stroke="#222" stroke-width="0.12">0</text>
<line x1="412.3" y1="439.1" x2="412.3" y2="441.3" stroke="#000" stroke-width="0.9"/>
<text x="411.1" y="450.2" font-size="6.4" text-anchor="middle" fill="#222" font-weight="normal" stroke="#222" stroke-width="0.12" textLength="6.2" lengthAdjust="spacingAndGlyphs">10</text>
<text x="414.7" y="446.9" font-size="4.3" text-anchor="start" fill="#222" font-weight="normal" stroke="#222" stroke-width="0.12">3</text>
<text x="403" y="460.5" font-size="8.5" text-anchor="middle" fill="#222" font-weight="normal" stroke="#222" stroke-width="0.24" textLength="29.8" lengthAdjust="spacingAndGlyphs">HSP90-PE</text>
<text x="360.9" y="384.3" font-size="6.8" text-anchor="start" fill="#222" font-weight="normal" stroke="#222" stroke-width="0.12" textLength="18.6" lengthAdjust="spacingAndGlyphs">DMSO</text>
<text x="360.9" y="399.6" font-size="6.8" text-anchor="start" fill="#222" font-weight="normal" stroke="#222" stroke-width="0.12" textLength="26.3" lengthAdjust="spacingAndGlyphs">1 µM RIC</text>
<text x="360.9" y="414.2" font-size="6.8" text-anchor="start" fill="#222" font-weight="normal" stroke="#222" stroke-width="0.12" textLength="26.3" lengthAdjust="spacingAndGlyphs">2 µM RIC</text>
<text x="360.9" y="430.6" font-size="6.8" text-anchor="start" fill="#222" font-weight="normal" stroke="#222" stroke-width="0.12" textLength="26.3" lengthAdjust="spacingAndGlyphs">5 µM RIC</text>
<line x1="453.2" y1="363.5" x2="453.2" y2="439.3" stroke="#000" stroke-width="1.2"/>
<line x1="452.6" y1="438.7" x2="511" y2="438.7" stroke="#000" stroke-width="1.2"/>
<line x1="450.7" y1="438.7" x2="453.2" y2="438.7" stroke="#000" stroke-width="1"/>
<text x="448.7" y="440.9" font-size="6.3" text-anchor="end" fill="#222" font-weight="normal" stroke="#222" stroke-width="0.12">0</text>
<line x1="450.7" y1="424.26" x2="453.2" y2="424.26" stroke="#000" stroke-width="1"/>
<text x="448.7" y="426.46" font-size="6.3" text-anchor="end" fill="#222" font-weight="normal" stroke="#222" stroke-width="0.12">1</text>
<line x1="450.7" y1="409.82" x2="453.2" y2="409.82" stroke="#000" stroke-width="1"/>
<text x="448.7" y="412.02" font-size="6.3" text-anchor="end" fill="#222" font-weight="normal" stroke="#222" stroke-width="0.12">2</text>
<line x1="450.7" y1="395.38" x2="453.2" y2="395.38" stroke="#000" stroke-width="1"/>
<text x="448.7" y="397.58" font-size="6.3" text-anchor="end" fill="#222" font-weight="normal" stroke="#222" stroke-width="0.12">3</text>
<line x1="450.7" y1="380.94" x2="453.2" y2="380.94" stroke="#000" stroke-width="1"/>
<text x="448.7" y="383.14" font-size="6.3" text-anchor="end" fill="#222" font-weight="normal" stroke="#222" stroke-width="0.12">4</text>
<line x1="450.7" y1="366.5" x2="453.2" y2="366.5" stroke="#000" stroke-width="1"/>
<text x="448.7" y="368.7" font-size="6.3" text-anchor="end" fill="#222" font-weight="normal" stroke="#222" stroke-width="0.12">5</text>
<rect x="457.9" y="393.07" width="9.6" height="45.63" fill="#000" stroke="none" stroke-width="0"/>
<line x1="462.7" y1="391.48" x2="462.7" y2="394.22" stroke="#000" stroke-width="1"/>
<line x1="460.2" y1="391.48" x2="465.2" y2="391.48" stroke="#000" stroke-width="1"/>
<line x1="460.2" y1="394.22" x2="465.2" y2="394.22" stroke="#000" stroke-width="1"/>
<line x1="462.7" y1="438.7" x2="462.7" y2="440.9" stroke="#000" stroke-width="1"/>
<rect x="471.3" y="388.74" width="9.5" height="49.96" fill="#1f3d21" stroke="none" stroke-width="0"/>
<line x1="476.05" y1="386.72" x2="476.05" y2="390.18" stroke="#000" stroke-width="1"/>
<line x1="473.55" y1="386.72" x2="478.55" y2="386.72" stroke="#000" stroke-width="1"/>
<line x1="473.55" y1="390.18" x2="478.55" y2="390.18" stroke="#000" stroke-width="1"/>
<line x1="476.05" y1="438.7" x2="476.05" y2="440.9" stroke="#000" stroke-width="1"/>
<rect x="485.5" y="381.81" width="9.5" height="56.89" fill="#3c7a3e" stroke="none" stroke-width="0"/>
<line x1="490.25" y1="380.07" x2="490.25" y2="383.11" stroke="#000" stroke-width="1"/>
<line x1="487.75" y1="380.07" x2="492.75" y2="380.07" stroke="#000" stroke-width="1"/>
<line x1="487.75" y1="383.11" x2="492.75" y2="383.11" stroke="#000" stroke-width="1"/>
<line x1="490.25" y1="438.7" x2="490.25" y2="440.9" stroke="#000" stroke-width="1"/>
<rect x="498.9" y="401.16" width="9.5" height="37.54" fill="#5ea55e" stroke="none" stroke-width="0"/>
<line x1="503.65" y1="399.71" x2="503.65" y2="402.17" stroke="#000" stroke-width="1"/>
<line x1="501.15" y1="399.71" x2="506.15" y2="399.71" stroke="#000" stroke-width="1"/>
<line x1="501.15" y1="402.17" x2="506.15" y2="402.17" stroke="#000" stroke-width="1"/>
<line x1="503.65" y1="438.7" x2="503.65" y2="440.9" stroke="#000" stroke-width="1"/>
<path d="M459.4 386.9 L459.4 357.5 L504 357.5 L504 396.25" stroke="#8c8c8c" stroke-width="0.6" fill="none"/>
<text x="481.9" y="355" font-size="5.7" text-anchor="middle" fill="#222" font-weight="normal" stroke="#222" stroke-width="0.12">p=0.0002</text>
<path d="M462.25 386.25 L462.25 366.25 L490.6 366.25 L490.6 378.1" stroke="#8c8c8c" stroke-width="0.6" fill="none"/>
<text x="476.1" y="362.9" font-size="5.7" text-anchor="middle" fill="#222" font-weight="normal" stroke="#222" stroke-width="0.12">p=0.0007</text>
<path d="M464.4 386.25 L464.4 375 L476.5 375 L476.5 382.5" stroke="#8c8c8c" stroke-width="0.6" fill="none"/>
<text x="471.6" y="373.5" font-size="5.7" text-anchor="middle" fill="#222" font-weight="normal" stroke="#222" stroke-width="0.12">p=0.04</text>
<text x="462.4" y="450.5" font-size="6.2" text-anchor="middle" fill="#222" font-weight="normal" stroke="#222" stroke-width="0.12" textLength="19.2" lengthAdjust="spacingAndGlyphs">DMSO</text>
<text x="476.4" y="450.5" font-size="6.2" text-anchor="middle" fill="#222" font-weight="normal" stroke="#222" stroke-width="0.12">1</text>
<text x="490.1" y="450.5" font-size="6.2" text-anchor="middle" fill="#222" font-weight="normal" stroke="#222" stroke-width="0.12">2</text>
<text x="503.5" y="450.5" font-size="6.2" text-anchor="middle" fill="#222" font-weight="normal" stroke="#222" stroke-width="0.12">5</text>
<line x1="477" y1="454.6" x2="508.9" y2="454.6" stroke="#000" stroke-width="0.8"/>
<text x="493.95" y="463.1" font-size="5.9" text-anchor="middle" fill="#222" font-weight="normal" stroke="#222" stroke-width="0.12" textLength="28.8" lengthAdjust="spacingAndGlyphs">[RIC] (µM)</text>
<text x="439.7" y="403.7" font-size="8.2" text-anchor="middle" fill="#222" font-weight="normal" stroke="#222" stroke-width="0.24" transform="rotate(-90 439.7 403.7)" textLength="64" lengthAdjust="spacingAndGlyphs">HSP90-PE MFI (x10<tspan baseline-shift="super" font-size="4.5">3</tspan>)</text>
<text x="9.2" y="490.5" font-size="12.2" text-anchor="start" fill="#000" font-weight="bold">I</text>
<line x1="35.5" y1="505" x2="35.5" y2="581.1" stroke="#000" stroke-width="1.2"/>
<line x1="34.9" y1="580.5" x2="151.8" y2="580.5" stroke="#000" stroke-width="1.2"/>
<line x1="33" y1="580.5" x2="35.5" y2="580.5" stroke="#000" stroke-width="1"/>
<text x="31" y="582.7" font-size="6.3" text-anchor="end" fill="#222" font-weight="normal" stroke="#222" stroke-width="0.12">0</text>
<line x1="33" y1="544.1" x2="35.5" y2="544.1" stroke="#000" stroke-width="1"/>
<text x="31" y="546.3" font-size="6.3" text-anchor="end" fill="#222" font-weight="normal" stroke="#222" stroke-width="0.12">50</text>
<line x1="33" y1="507.7" x2="35.5" y2="507.7" stroke="#000" stroke-width="1"/>
<text x="31" y="509.9" font-size="6.3" text-anchor="end" fill="#222" font-weight="normal" stroke="#222" stroke-width="0.12">100</text>
<line x1="35.5" y1="580.5" x2="35.5" y2="583" stroke="#000" stroke-width="0.9"/>
<line x1="42.58" y1="580.5" x2="42.58" y2="582" stroke="#000" stroke-width="0.9"/>
<line x1="49.66" y1="580.5" x2="49.66" y2="582" stroke="#000" stroke-width="0.9"/>
<line x1="56.74" y1="580.5" x2="56.74" y2="582" stroke="#000" stroke-width="0.9"/>
<line x1="63.82" y1="580.5" x2="63.82" y2="582" stroke="#000" stroke-width="0.9"/>
<line x1="70.9" y1="580.5" x2="70.9" y2="583" stroke="#000" stroke-width="0.9"/>
<line x1="77.98" y1="580.5" x2="77.98" y2="582" stroke="#000" stroke-width="0.9"/>
<line x1="85.06" y1="580.5" x2="85.06" y2="582" stroke="#000" stroke-width="0.9"/>
<line x1="92.14" y1="580.5" x2="92.14" y2="582" stroke="#000" stroke-width="0.9"/>
<line x1="99.22" y1="580.5" x2="99.22" y2="582" stroke="#000" stroke-width="0.9"/>
<line x1="106.3" y1="580.5" x2="106.3" y2="583" stroke="#000" stroke-width="0.9"/>
<line x1="113.38" y1="580.5" x2="113.38" y2="582" stroke="#000" stroke-width="0.9"/>
<line x1="120.46" y1="580.5" x2="120.46" y2="582" stroke="#000" stroke-width="0.9"/>
<line x1="127.54" y1="580.5" x2="127.54" y2="582" stroke="#000" stroke-width="0.9"/>
<line x1="134.62" y1="580.5" x2="134.62" y2="582" stroke="#000" stroke-width="0.9"/>
<line x1="141.7" y1="580.5" x2="141.7" y2="583" stroke="#000" stroke-width="0.9"/>
<line x1="148.78" y1="580.5" x2="148.78" y2="582" stroke="#000" stroke-width="0.9"/>
<text x="35.5" y="591.5" font-size="6.3" text-anchor="middle" fill="#222" font-weight="normal" stroke="#222" stroke-width="0.12">0</text>
<text x="70.9" y="591.5" font-size="6.3" text-anchor="middle" fill="#222" font-weight="normal" stroke="#222" stroke-width="0.12">5</text>
<text x="106.3" y="591.5" font-size="6.3" text-anchor="middle" fill="#222" font-weight="normal" stroke="#222" stroke-width="0.12">10</text>
<text x="141.7" y="591.5" font-size="6.3" text-anchor="middle" fill="#222" font-weight="normal" stroke="#222" stroke-width="0.12">15</text>
<text x="94" y="602.2" font-size="8.1" text-anchor="middle" fill="#222" font-weight="normal" stroke="#222" stroke-width="0.24" textLength="34.3" lengthAdjust="spacingAndGlyphs">Time (days)</text>
<text x="14.2" y="543.5" font-size="8.2" text-anchor="middle" fill="#222" font-weight="normal" stroke="#222" stroke-width="0.24" transform="rotate(-90 14.2 543.5)" textLength="13" lengthAdjust="spacingAndGlyphs">DSS</text>
<path d="M35.5 507.7 L92.14 507.7 L92.14 522.26 L99.22 522.26 L99.22 536.82 L127.54 536.82 L127.54 551.38 L141.7 551.38 L141.7 565.94 L148.78 565.94 L148.78 580.5" stroke="#b83a3a" stroke-width="1.15" fill="none"/>
<path d="M35.5 507.7 L85.06 507.7 L85.06 536.82 L92.14 536.82 L92.14 551.38 L99.22 551.38 L99.22 565.94 L141.7 565.94 L141.7 580.5" stroke="#4f78b8" stroke-width="1.15" fill="none"/>
<path d="M35.5 507.7 L77.98 507.7 L77.98 529.54 L85.06 529.54 L85.06 551.38 L92.14 551.38 L92.14 573.22 L106.3 573.22 L106.3 580.5" stroke="#333" stroke-width="1.15" fill="none"/>
<text x="103.5" y="524.8" font-size="5.4" text-anchor="start" fill="#b5464a" font-weight="normal" stroke="#b5464a" stroke-width="0.12" textLength="19" lengthAdjust="spacingAndGlyphs">17-AAG</text>
<text x="103.2" y="531.1" font-size="5.4" text-anchor="start" fill="#b5464a" font-weight="normal" stroke="#b5464a" stroke-width="0.12" textLength="36.3" lengthAdjust="spacingAndGlyphs">(n=5, p=0.009)</text>
<text x="102.3" y="556.8" font-size="5.4" text-anchor="start" fill="#4a6fb0" font-weight="normal" stroke="#4a6fb0" stroke-width="0.12">RIC</text>
<text x="102.2" y="562.9" font-size="5.4" text-anchor="start" fill="#4a6fb0" font-weight="normal" stroke="#4a6fb0" stroke-width="0.12" textLength="32.6" lengthAdjust="spacingAndGlyphs">(n=5, p=0.20)</text>
<text x="88.6" y="573.5" font-size="5.6" text-anchor="end" fill="#222" font-weight="normal" stroke="#222" stroke-width="0.12" textLength="35.9" lengthAdjust="spacingAndGlyphs">placebo (n=10)</text>
<text x="170.8" y="490" font-size="12.2" text-anchor="start" fill="#000" font-weight="bold">J</text>
<line x1="199.6" y1="506" x2="199.6" y2="581.2" stroke="#000" stroke-width="1.2"/>
<line x1="199" y1="580.6" x2="291" y2="580.6" stroke="#000" stroke-width="1.2"/>
<line x1="198" y1="575.8" x2="199.6" y2="575.8" stroke="#000" stroke-width="0.8"/>
<line x1="198" y1="571" x2="199.6" y2="571" stroke="#000" stroke-width="0.8"/>
<line x1="198" y1="566.2" x2="199.6" y2="566.2" stroke="#000" stroke-width="0.8"/>
<line x1="198" y1="561.4" x2="199.6" y2="561.4" stroke="#000" stroke-width="0.8"/>
<line x1="198" y1="551.8" x2="199.6" y2="551.8" stroke="#000" stroke-width="0.8"/>
<line x1="198" y1="547" x2="199.6" y2="547" stroke="#000" stroke-width="0.8"/>
<line x1="198" y1="542.2" x2="199.6" y2="542.2" stroke="#000" stroke-width="0.8"/>
<line x1="198" y1="537.4" x2="199.6" y2="537.4" stroke="#000" stroke-width="0.8"/>
<line x1="198" y1="527.8" x2="199.6" y2="527.8" stroke="#000" stroke-width="0.8"/>
<line x1="198" y1="523" x2="199.6" y2="523" stroke="#000" stroke-width="0.8"/>
<line x1="198" y1="518.2" x2="199.6" y2="518.2" stroke="#000" stroke-width="0.8"/>
<line x1="198" y1="513.4" x2="199.6" y2="513.4" stroke="#000" stroke-width="0.8"/>
<line x1="197.1" y1="580.6" x2="199.6" y2="580.6" stroke="#000" stroke-width="1"/>
<text x="195.1" y="582.8" font-size="6.3" text-anchor="end" fill="#222" font-weight="normal" stroke="#222" stroke-width="0.12">0</text>
<line x1="197.1" y1="556.6" x2="199.6" y2="556.6" stroke="#000" stroke-width="1"/>
<text x="195.1" y="558.8" font-size="6.3" text-anchor="end" fill="#222" font-weight="normal" stroke="#222" stroke-width="0.12">50</text>
<line x1="197.1" y1="532.6" x2="199.6" y2="532.6" stroke="#000" stroke-width="1"/>
<text x="195.1" y="534.8" font-size="6.3" text-anchor="end" fill="#222" font-weight="normal" stroke="#222" stroke-width="0.12">100</text>
<line x1="197.1" y1="508.6" x2="199.6" y2="508.6" stroke="#000" stroke-width="1"/>
<text x="195.1" y="510.8" font-size="6.3" text-anchor="end" fill="#222" font-weight="normal" stroke="#222" stroke-width="0.12">150</text>
<line x1="199.6" y1="580.6" x2="199.6" y2="583.1" stroke="#000" stroke-width="0.9"/>
<line x1="212.2" y1="580.6" x2="212.2" y2="582.1" stroke="#000" stroke-width="0.9"/>
<line x1="224.8" y1="580.6" x2="224.8" y2="583.1" stroke="#000" stroke-width="0.9"/>
<line x1="237.4" y1="580.6" x2="237.4" y2="582.1" stroke="#000" stroke-width="0.9"/>
<line x1="250" y1="580.6" x2="250" y2="583.1" stroke="#000" stroke-width="0.9"/>
<line x1="262.6" y1="580.6" x2="262.6" y2="582.1" stroke="#000" stroke-width="0.9"/>
<line x1="275.2" y1="580.6" x2="275.2" y2="583.1" stroke="#000" stroke-width="0.9"/>
<line x1="287.8" y1="580.6" x2="287.8" y2="582.1" stroke="#000" stroke-width="0.9"/>
<text x="199.6" y="591.6" font-size="6.3" text-anchor="middle" fill="#222" font-weight="normal" stroke="#222" stroke-width="0.12">0</text>
<text x="224.8" y="591.6" font-size="6.3" text-anchor="middle" fill="#222" font-weight="normal" stroke="#222" stroke-width="0.12">2</text>
<text x="250" y="591.6" font-size="6.3" text-anchor="middle" fill="#222" font-weight="normal" stroke="#222" stroke-width="0.12">4</text>
<text x="275.2" y="591.6" font-size="6.3" text-anchor="middle" fill="#222" font-weight="normal" stroke="#222" stroke-width="0.12">6</text>
<text x="245" y="602.2" font-size="8.1" text-anchor="middle" fill="#222" font-weight="normal" stroke="#222" stroke-width="0.24" textLength="34.3" lengthAdjust="spacingAndGlyphs">Time (days)</text>
<text x="179" y="543.4" font-size="8.2" text-anchor="middle" fill="#222" font-weight="normal" stroke="#222" stroke-width="0.24" transform="rotate(-90 179 543.4)" textLength="75" lengthAdjust="spacingAndGlyphs">WBC count (10<tspan baseline-shift="super" font-size="5">3</tspan> cells/µL)</text>
<line x1="199.6" y1="580.6" x2="287.8" y2="520.6" stroke="#111" stroke-width="1.2"/>
<line x1="199.6" y1="580.6" x2="287.8" y2="535" stroke="#4f78b8" stroke-width="1.2"/>
<line x1="199.6" y1="580.6" x2="287.8" y2="544.6" stroke="#b83a3a" stroke-width="1.2"/>
<circle cx="287.8" cy="513.8" r="1.6" fill="#111"/>
<circle cx="287.8" cy="516.5" r="1.6" fill="#111"/>
<circle cx="287.8" cy="519" r="1.6" fill="#111"/>
<circle cx="287.8" cy="521.5" r="1.6" fill="#111"/>
<circle cx="287.8" cy="524.5" r="1.6" fill="#111"/>
<circle cx="287.8" cy="529.8" r="1.6" fill="#3f68a8"/>
<circle cx="287.8" cy="532.5" r="1.6" fill="#3f68a8"/>
<circle cx="287.8" cy="536.5" r="1.6" fill="#3f68a8"/>
<circle cx="287.8" cy="551.3" r="1.6" fill="#3f68a8"/>
<path d="M287.8 517.5 L289.8 519.5 L287.8 521.5 L285.8 519.5 Z" fill="#b03030"/>
<path d="M287.8 519.5 L289.8 521.5 L287.8 523.5 L285.8 521.5 Z" fill="#b03030"/>
<path d="M287.8 529.2 L289.8 531.2 L287.8 533.2 L285.8 531.2 Z" fill="#b03030"/>
<path d="M287.8 551.3 L289.8 553.3 L287.8 555.3 L285.8 553.3 Z" fill="#b03030"/>
<path d="M287.8 578.3 L289.8 580.3 L287.8 582.3 L285.8 580.3 Z" fill="#b03030"/>
<line x1="201.9" y1="498.5" x2="210.4" y2="498.5" stroke="#b03030" stroke-width="1.2"/>
<path d="M206.1 496.6 L208 498.5 L206.1 500.4 L204.2 498.5 Z" fill="#b03030"/>
<text x="213.5" y="500.1" font-size="5.6" text-anchor="start" fill="#222" font-weight="normal" stroke="#222" stroke-width="0.12" textLength="19.2" lengthAdjust="spacingAndGlyphs">17-AAG</text>
<line x1="201.9" y1="514.2" x2="210.4" y2="514.2" stroke="#111" stroke-width="1.2"/>
<circle cx="206.1" cy="514.2" r="1.6" fill="#111"/>
<text x="213.5" y="515.8" font-size="5.6" text-anchor="start" fill="#222" font-weight="normal" stroke="#222" stroke-width="0.12" textLength="19.2" lengthAdjust="spacingAndGlyphs">placebo</text>
<line x1="201.9" y1="529.6" x2="210.4" y2="529.6" stroke="#3f68a8" stroke-width="1.2"/>
<circle cx="206.1" cy="529.6" r="1.6" fill="#3f68a8"/>
<text x="213.5" y="531.2" font-size="5.6" text-anchor="start" fill="#222" font-weight="normal" stroke="#222" stroke-width="0.12" textLength="8.4" lengthAdjust="spacingAndGlyphs">RIC</text>
<path d="M241 498.8 L245.8 498.8 L245.8 513.5 L241 513.5" stroke="#9a9a9a" stroke-width="0.7" fill="none"/>
<path d="M241 516.2 L245.8 516.2 L245.8 530.6 L241 530.6" stroke="#9a9a9a" stroke-width="0.7" fill="none"/>
<text x="248.1" y="507.7" font-size="5.7" text-anchor="start" fill="#222" font-weight="normal" stroke="#222" stroke-width="0.12" textLength="20.4" lengthAdjust="spacingAndGlyphs">p=0.009</text>
<text x="248.1" y="524.6" font-size="5.7" text-anchor="start" fill="#222" font-weight="normal" stroke="#222" stroke-width="0.12" textLength="20.4" lengthAdjust="spacingAndGlyphs">p=0.003</text>
<text x="307.6" y="490.5" font-size="12.2" text-anchor="start" fill="#000" font-weight="bold">K</text>
<line x1="334.1" y1="520.5" x2="334.1" y2="581.8" stroke="#000" stroke-width="1.2"/>
<line x1="333.5" y1="581.2" x2="401.5" y2="581.2" stroke="#000" stroke-width="1.2"/>
<line x1="332.5" y1="574.65" x2="334.1" y2="574.65" stroke="#000" stroke-width="0.8"/>
<line x1="332.5" y1="561.55" x2="334.1" y2="561.55" stroke="#000" stroke-width="0.8"/>
<line x1="332.5" y1="548.45" x2="334.1" y2="548.45" stroke="#000" stroke-width="0.8"/>
<line x1="332.5" y1="535.35" x2="334.1" y2="535.35" stroke="#000" stroke-width="0.8"/>
<line x1="332.5" y1="522.25" x2="334.1" y2="522.25" stroke="#000" stroke-width="0.8"/>
<line x1="331.6" y1="581.2" x2="334.1" y2="581.2" stroke="#000" stroke-width="1"/>
<text x="329.1" y="583.4" font-size="6.3" text-anchor="end" fill="#222" font-weight="normal" stroke="#222" stroke-width="0.12">0</text>
<line x1="331.6" y1="568.1" x2="334.1" y2="568.1" stroke="#000" stroke-width="1"/>
<text x="329.1" y="570.3" font-size="6.3" text-anchor="end" fill="#222" font-weight="normal" stroke="#222" stroke-width="0.12">200</text>
<line x1="331.6" y1="555" x2="334.1" y2="555" stroke="#000" stroke-width="1"/>
<text x="329.1" y="557.2" font-size="6.3" text-anchor="end" fill="#222" font-weight="normal" stroke="#222" stroke-width="0.12">400</text>
<line x1="331.6" y1="541.9" x2="334.1" y2="541.9" stroke="#000" stroke-width="1"/>
<text x="329.1" y="544.1" font-size="6.3" text-anchor="end" fill="#222" font-weight="normal" stroke="#222" stroke-width="0.12">600</text>
<line x1="331.6" y1="528.8" x2="334.1" y2="528.8" stroke="#000" stroke-width="1"/>
<text x="329.1" y="531" font-size="6.3" text-anchor="end" fill="#222" font-weight="normal" stroke="#222" stroke-width="0.12">800</text>
<rect x="340.5" y="546.16" width="10.8" height="35.04" fill="none" stroke="#111" stroke-width="1.2"/>
<line x1="345.9" y1="542.88" x2="345.9" y2="548.45" stroke="#111" stroke-width="1"/>
<line x1="342.9" y1="542.88" x2="348.9" y2="542.88" stroke="#111" stroke-width="1"/>
<line x1="342.9" y1="548.45" x2="348.9" y2="548.45" stroke="#111" stroke-width="1"/>
<line x1="345.9" y1="581.2" x2="345.9" y2="583.4" stroke="#000" stroke-width="1"/>
<rect x="362.4" y="546.16" width="10.6" height="35.04" fill="none" stroke="#4f78b8" stroke-width="1.2"/>
<line x1="367.7" y1="541.25" x2="367.7" y2="551.07" stroke="#4f78b8" stroke-width="1"/>
<line x1="364.7" y1="541.25" x2="370.7" y2="541.25" stroke="#4f78b8" stroke-width="1"/>
<line x1="364.7" y1="551.07" x2="370.7" y2="551.07" stroke="#4f78b8" stroke-width="1"/>
<line x1="367.7" y1="581.2" x2="367.7" y2="583.4" stroke="#000" stroke-width="1"/>
<rect x="384.1" y="555.98" width="10.8" height="25.22" fill="none" stroke="#b03a3a" stroke-width="1.2"/>
<line x1="389.5" y1="553.69" x2="389.5" y2="558.6" stroke="#b03a3a" stroke-width="1"/>
<line x1="386.5" y1="553.69" x2="392.5" y2="553.69" stroke="#b03a3a" stroke-width="1"/>
<line x1="386.5" y1="558.6" x2="392.5" y2="558.6" stroke="#b03a3a" stroke-width="1"/>
<line x1="389.5" y1="581.2" x2="389.5" y2="583.4" stroke="#000" stroke-width="1"/>
<path d="M345.3 522.3 L345.3 512.4 L390.1 512.4 L390.1 543.9" stroke="#9a9a9a" stroke-width="0.7" fill="none"/>
<text x="367.7" y="510.3" font-size="5.6" text-anchor="middle" fill="#222" font-weight="normal" stroke="#222" stroke-width="0.12">p=0.03</text>
<text x="345.9" y="592.8" font-size="6.8" text-anchor="middle" fill="#222" font-weight="normal" stroke="#222" stroke-width="0.12" textLength="23.4" lengthAdjust="spacingAndGlyphs">placebo</text>
<text x="367.7" y="592.8" font-size="6.8" text-anchor="middle" fill="#222" font-weight="normal" stroke="#222" stroke-width="0.12" textLength="9.2" lengthAdjust="spacingAndGlyphs">RIC</text>
<text x="389.5" y="592.8" font-size="6.8" text-anchor="middle" fill="#222" font-weight="normal" stroke="#222" stroke-width="0.12" textLength="22.6" lengthAdjust="spacingAndGlyphs">17-AAG</text>
<text x="313" y="549.9" font-size="8.3" text-anchor="middle" fill="#222" font-weight="normal" stroke="#222" stroke-width="0.24" transform="rotate(-90 313 549.9)" textLength="58.8" lengthAdjust="spacingAndGlyphs">Spleen weight (mg)</text>
<circle cx="344" cy="531.42" r="1.3" fill="#111"/>
<circle cx="346" cy="535.35" r="1.3" fill="#111"/>
<circle cx="342" cy="539.94" r="1.3" fill="#111"/>
<circle cx="349" cy="539.28" r="1.3" fill="#111"/>
<circle cx="344" cy="544.52" r="1.3" fill="#111"/>
<circle cx="347" cy="543.21" r="1.3" fill="#111"/>
<circle cx="350" cy="546.49" r="1.3" fill="#111"/>
<circle cx="342" cy="553.04" r="1.3" fill="#111"/>
<circle cx="346" cy="559.59" r="1.3" fill="#111"/>
<circle cx="349" cy="557.62" r="1.3" fill="#111"/>
<circle cx="343" cy="547.8" r="1.3" fill="#111"/>
<path d="M367.7 527.2 L369.2 529.8 L366.2 529.8 Z" fill="#4f78b8"/>
<path d="M365 541.61 L366.5 544.21 L363.5 544.21 Z" fill="#4f78b8"/>
<path d="M370 544.23 L371.5 546.83 L368.5 546.83 Z" fill="#4f78b8"/>
<path d="M366 548.82 L367.5 551.42 L364.5 551.42 Z" fill="#4f78b8"/>
<path d="M369 546.85 L370.5 549.45 L367.5 549.45 Z" fill="#4f78b8"/>
<path d="M389.5 553.33 L391 550.73 L388 550.73 Z" fill="#b03a3a"/>
<path d="M387 557.26 L388.5 554.66 L385.5 554.66 Z" fill="#b03a3a"/>
<path d="M392 557.91 L393.5 555.31 L390.5 555.31 Z" fill="#b03a3a"/>
<path d="M389 560.53 L390.5 557.93 L387.5 557.93 Z" fill="#b03a3a"/>
<path d="M391 559.22 L392.5 556.62 L389.5 556.62 Z" fill="#b03a3a"/>
<line x1="440.3" y1="519.5" x2="440.3" y2="581.9" stroke="#000" stroke-width="1.2"/>
<line x1="439.7" y1="581.3" x2="507" y2="581.3" stroke="#000" stroke-width="1.2"/>
<line x1="438.7" y1="575.35" x2="440.3" y2="575.35" stroke="#000" stroke-width="0.8"/>
<line x1="438.7" y1="563.45" x2="440.3" y2="563.45" stroke="#000" stroke-width="0.8"/>
<line x1="438.7" y1="551.55" x2="440.3" y2="551.55" stroke="#000" stroke-width="0.8"/>
<line x1="438.7" y1="539.65" x2="440.3" y2="539.65" stroke="#000" stroke-width="0.8"/>
<line x1="438.7" y1="527.75" x2="440.3" y2="527.75" stroke="#000" stroke-width="0.8"/>
<line x1="437.8" y1="581.3" x2="440.3" y2="581.3" stroke="#000" stroke-width="1"/>
<text x="435.3" y="583.5" font-size="6.3" text-anchor="end" fill="#222" font-weight="normal" stroke="#222" stroke-width="0.12">0</text>
<line x1="437.8" y1="569.4" x2="440.3" y2="569.4" stroke="#000" stroke-width="1"/>
<text x="435.3" y="571.6" font-size="6.3" text-anchor="end" fill="#222" font-weight="normal" stroke="#222" stroke-width="0.12">20</text>
<line x1="437.8" y1="557.5" x2="440.3" y2="557.5" stroke="#000" stroke-width="1"/>
<text x="435.3" y="559.7" font-size="6.3" text-anchor="end" fill="#222" font-weight="normal" stroke="#222" stroke-width="0.12">40</text>
<line x1="437.8" y1="545.6" x2="440.3" y2="545.6" stroke="#000" stroke-width="1"/>
<text x="435.3" y="547.8" font-size="6.3" text-anchor="end" fill="#222" font-weight="normal" stroke="#222" stroke-width="0.12">60</text>
<line x1="437.8" y1="533.7" x2="440.3" y2="533.7" stroke="#000" stroke-width="1"/>
<text x="435.3" y="535.9" font-size="6.3" text-anchor="end" fill="#222" font-weight="normal" stroke="#222" stroke-width="0.12">80</text>
<line x1="437.8" y1="521.8" x2="440.3" y2="521.8" stroke="#000" stroke-width="1"/>
<text x="435.3" y="524" font-size="6.3" text-anchor="end" fill="#222" font-weight="normal" stroke="#222" stroke-width="0.12">100</text>
<rect x="447.6" y="548.57" width="11.3" height="32.73" fill="none" stroke="#111" stroke-width="1.2"/>
<line x1="453.25" y1="544.41" x2="453.25" y2="552.14" stroke="#111" stroke-width="1"/>
<line x1="450.25" y1="544.41" x2="456.25" y2="544.41" stroke="#111" stroke-width="1"/>
<line x1="450.25" y1="552.14" x2="456.25" y2="552.14" stroke="#111" stroke-width="1"/>
<line x1="453.25" y1="581.3" x2="453.25" y2="583.5" stroke="#000" stroke-width="1"/>
<rect x="469.6" y="558.09" width="10.9" height="23.2" fill="none" stroke="#4f78b8" stroke-width="1.2"/>
<line x1="475.05" y1="555.12" x2="475.05" y2="561.07" stroke="#4f78b8" stroke-width="1"/>
<line x1="472.05" y1="555.12" x2="478.05" y2="555.12" stroke="#4f78b8" stroke-width="1"/>
<line x1="472.05" y1="561.07" x2="478.05" y2="561.07" stroke="#4f78b8" stroke-width="1"/>
<line x1="475.05" y1="581.3" x2="475.05" y2="583.5" stroke="#000" stroke-width="1"/>
<rect x="491.4" y="569.4" width="11.3" height="11.9" fill="none" stroke="#b03a3a" stroke-width="1.2"/>
<line x1="497.05" y1="565.83" x2="497.05" y2="572.38" stroke="#b03a3a" stroke-width="1"/>
<line x1="494.05" y1="565.83" x2="500.05" y2="565.83" stroke="#b03a3a" stroke-width="1"/>
<line x1="494.05" y1="572.38" x2="500.05" y2="572.38" stroke="#b03a3a" stroke-width="1"/>
<line x1="497.05" y1="581.3" x2="497.05" y2="583.5" stroke="#000" stroke-width="1"/>
<path d="M452.8 537.5 L452.8 503.1 L497.3 503.1 L497.3 559.7" stroke="#9a9a9a" stroke-width="0.7" fill="none"/>
<text x="474.6" y="500.5" font-size="5.6" text-anchor="middle" fill="#222" font-weight="normal" stroke="#222" stroke-width="0.12">p=0.005</text>
<path d="M455.5 537.5 L455.5 512.2 L475.7 512.2 L475.7 550.6" stroke="#9a9a9a" stroke-width="0.7" fill="none"/>
<text x="465.6" y="510.6" font-size="5.6" text-anchor="middle" fill="#222" font-weight="normal" stroke="#222" stroke-width="0.12">p=0.14</text>
<text x="453.4" y="592.9" font-size="6.8" text-anchor="middle" fill="#222" font-weight="normal" stroke="#222" stroke-width="0.12" textLength="23.4" lengthAdjust="spacingAndGlyphs">placebo</text>
<text x="475" y="592.9" font-size="6.8" text-anchor="middle" fill="#222" font-weight="normal" stroke="#222" stroke-width="0.12" textLength="9.2" lengthAdjust="spacingAndGlyphs">RIC</text>
<text x="497.3" y="592.9" font-size="6.8" text-anchor="middle" fill="#222" font-weight="normal" stroke="#222" stroke-width="0.12" textLength="22.6" lengthAdjust="spacingAndGlyphs">17-AAG</text>
<text x="420.5" y="550" font-size="8.3" text-anchor="middle" fill="#222" font-weight="normal" stroke="#222" stroke-width="0.24" transform="rotate(-90 420.5 550)" textLength="60.8" lengthAdjust="spacingAndGlyphs">Thymus weight (mg)</text>
<circle cx="451" cy="529.53" r="1.3" fill="#111"/>
<circle cx="455" cy="532.51" r="1.3" fill="#111"/>
<circle cx="450" cy="539.65" r="1.3" fill="#111"/>
<circle cx="455" cy="538.46" r="1.3" fill="#111"/>
<circle cx="452" cy="546.79" r="1.3" fill="#111"/>
<circle cx="449" cy="550.36" r="1.3" fill="#111"/>
<circle cx="456" cy="551.55" r="1.3" fill="#111"/>
<circle cx="451" cy="557.5" r="1.3" fill="#111"/>
<circle cx="455" cy="560.47" r="1.3" fill="#111"/>
<circle cx="450" cy="564.64" r="1.3" fill="#111"/>
<path d="M472 552.92 L473.5 555.52 L470.5 555.52 Z" fill="#4f78b8"/>
<path d="M478 553.52 L479.5 556.12 L476.5 556.12 Z" fill="#4f78b8"/>
<path d="M475 555.9 L476.5 558.5 L473.5 558.5 Z" fill="#4f78b8"/>
<path d="M474 561.85 L475.5 564.45 L472.5 564.45 Z" fill="#4f78b8"/>
<path d="M476 566.01 L477.5 568.62 L474.5 568.62 Z" fill="#4f78b8"/>
<path d="M497.3 560.29 L498.8 557.69 L495.8 557.69 Z" fill="#b03a3a"/>
<path d="M495 571 L496.5 568.4 L493.5 568.4 Z" fill="#b03a3a"/>
<path d="M499 572.78 L500.5 570.18 L497.5 570.18 Z" fill="#b03a3a"/>
<path d="M497 573.98 L498.5 571.38 L495.5 571.38 Z" fill="#b03a3a"/>
<path d="M496 569.81 L497.5 567.21 L494.5 567.21 Z" fill="#b03a3a"/></svg>
</body></html>
